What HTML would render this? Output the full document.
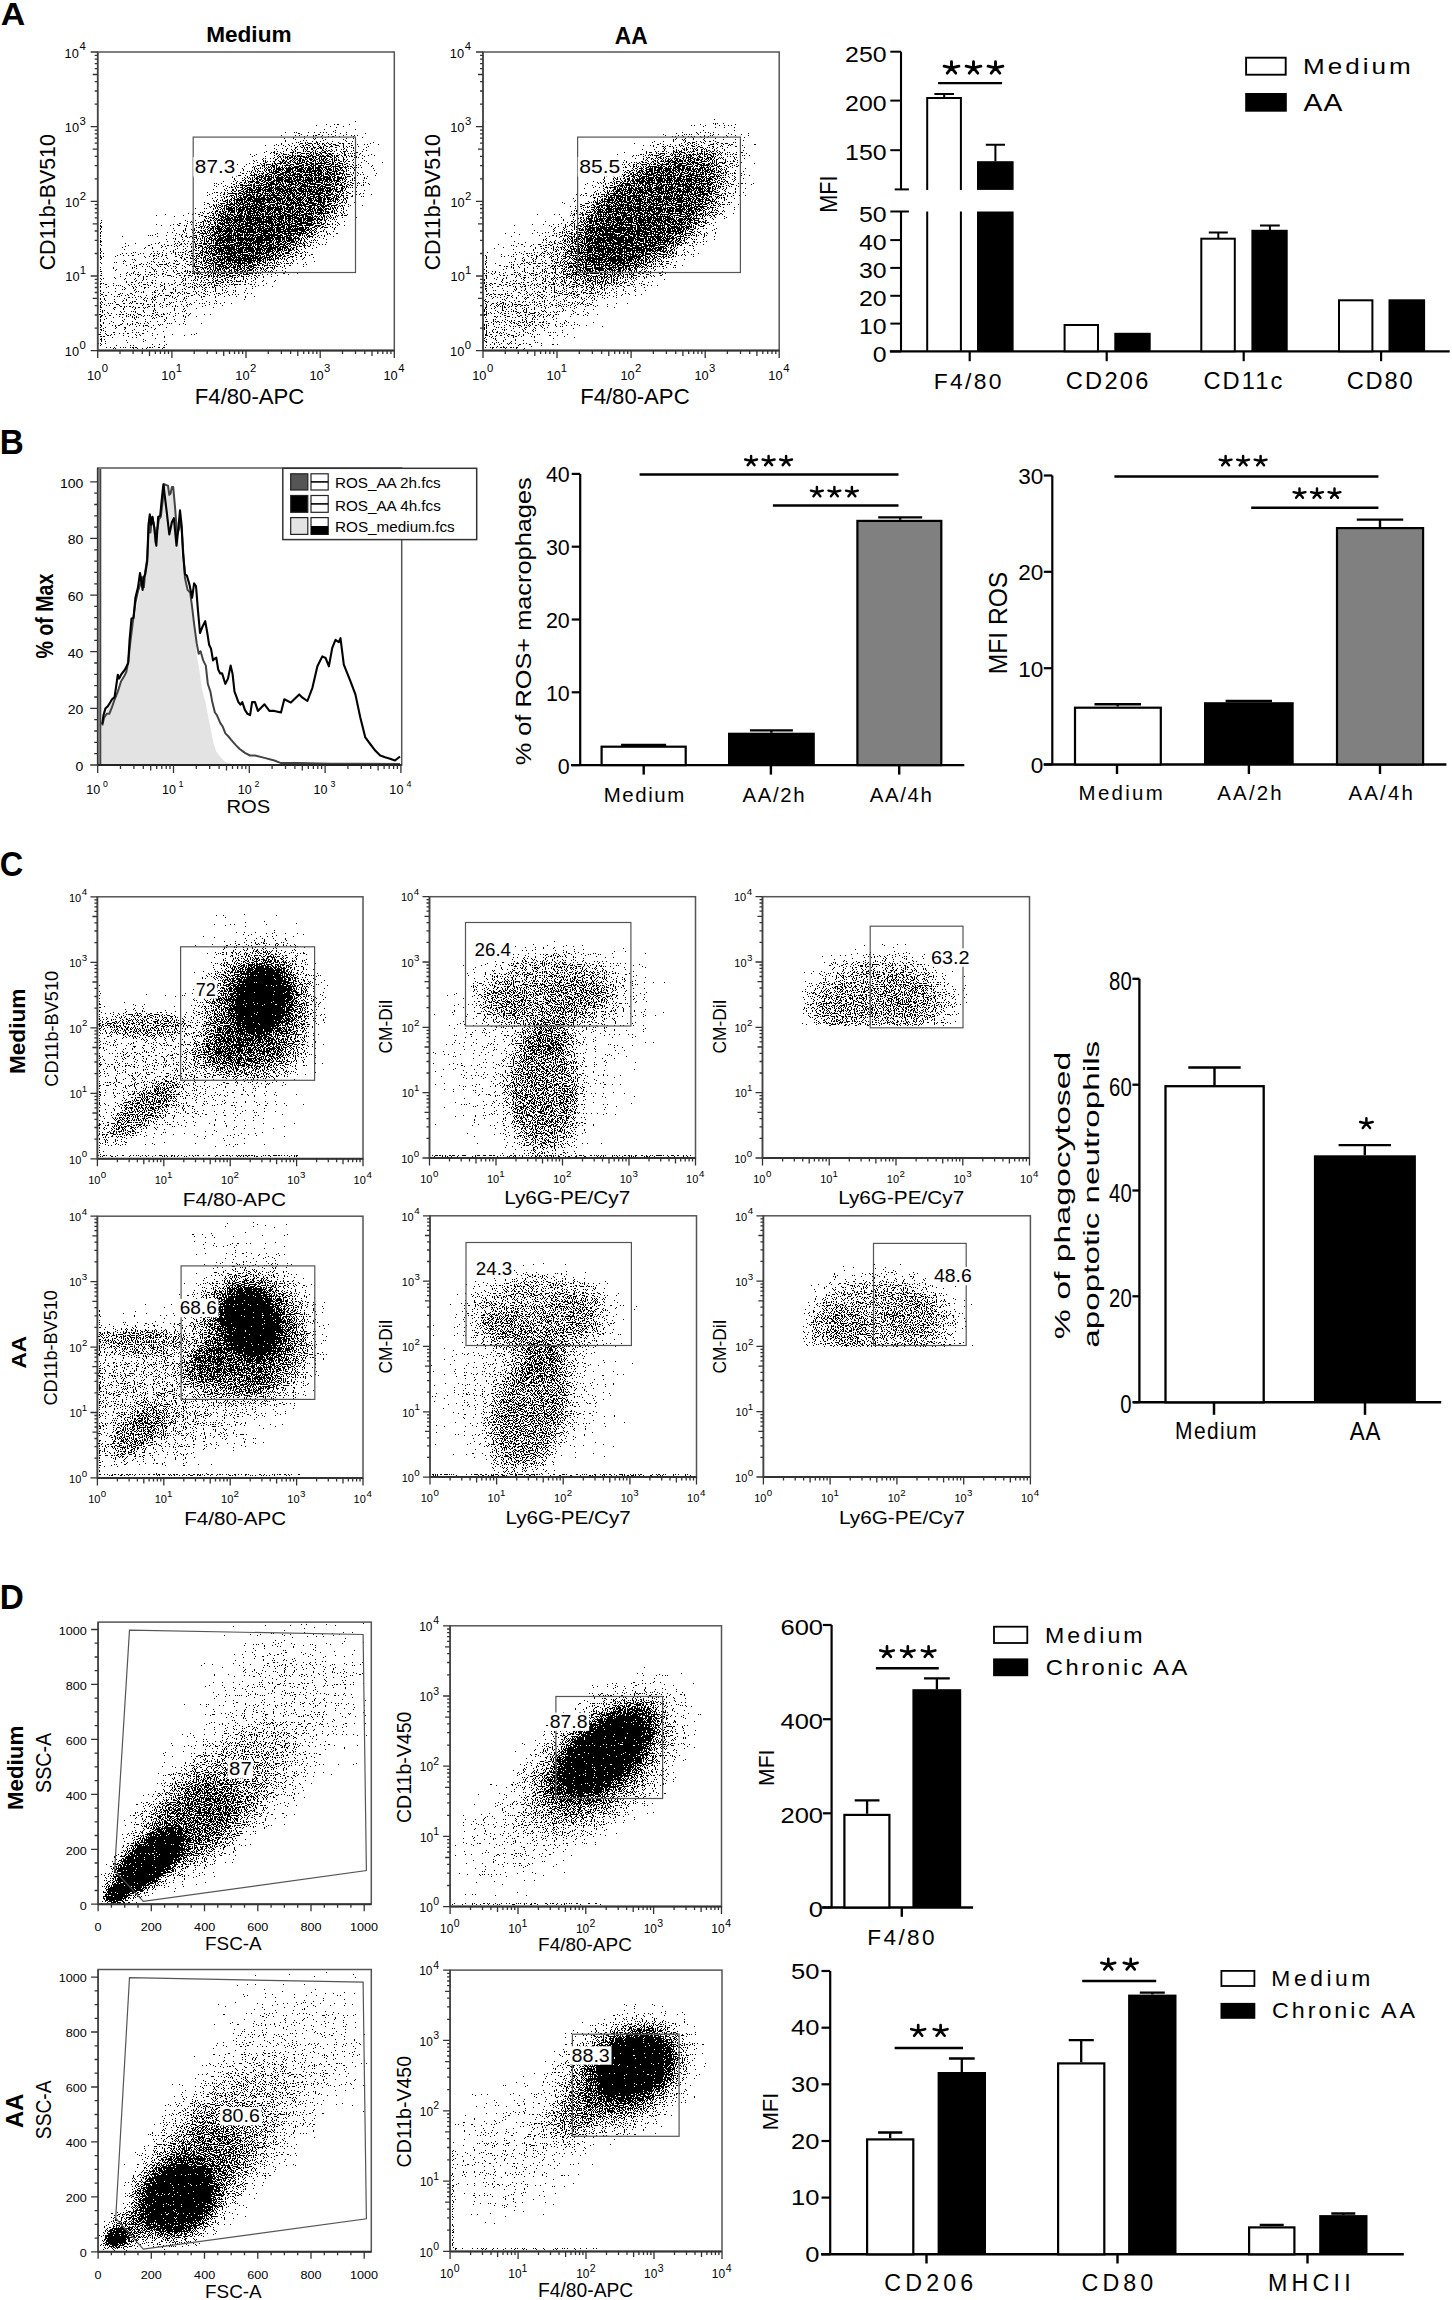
<!DOCTYPE html><html><head><meta charset="utf-8"><title>Figure</title><style>html,body{margin:0;padding:0;background:#fff;width:1452px;height:2300px;overflow:hidden}svg{display:block}</style></head><body><svg width="1452" height="2300" viewBox="0 0 1452 2300" font-family='"Liberation Sans", sans-serif'><defs><filter id="d1" x="97.7" y="52" width="296.6" height="298.6" filterUnits="userSpaceOnUse" color-interpolation-filters="sRGB"><feTurbulence type="fractalNoise" baseFrequency="0.9" numOctaves="1" seed="8" result="n"/><feComponentTransfer in="n" result="u"><feFuncR type="table" tableValues="0.000 0.000 0.000 0.000 0.000 0.000 0.000 0.000 0.000 0.001 0.004 0.013 0.028 0.051 0.088 0.127 0.185 0.240 0.315 0.415 0.492 0.590 0.690 0.762 0.824 0.871 0.909 0.945 0.969 0.986 0.995 0.998 1.000 1.000 1.000 1.000 1.000 1.000 1.000 1.000 1.000"/></feComponentTransfer><feColorMatrix in="u" type="matrix" values="0 0 0 0 0 0 0 0 0 0 0 0 0 0 0 1 0 0 0 0" result="na"/><feComposite in="SourceAlpha" in2="na" operator="arithmetic" k2="1" k3="-1" k4="0.497" result="c"/><feColorMatrix in="c" type="matrix" values="0 0 0 0 0 0 0 0 0 0 0 0 0 0 0 0 0 0 1 0" result="c2"/><feComponentTransfer in="c2"><feFuncA type="discrete" tableValues="0 1"/></feComponentTransfer></filter><radialGradient id="g0"><stop offset="0.000" stop-opacity="0.740"/><stop offset="0.062" stop-opacity="0.740"/><stop offset="0.125" stop-opacity="0.740"/><stop offset="0.188" stop-opacity="0.740"/><stop offset="0.250" stop-opacity="0.740"/><stop offset="0.312" stop-opacity="0.740"/><stop offset="0.375" stop-opacity="0.740"/><stop offset="0.438" stop-opacity="0.740"/><stop offset="0.500" stop-opacity="0.713"/><stop offset="0.562" stop-opacity="0.613"/><stop offset="0.625" stop-opacity="0.469"/><stop offset="0.688" stop-opacity="0.320"/><stop offset="0.750" stop-opacity="0.194"/><stop offset="0.812" stop-opacity="0.105"/><stop offset="0.875" stop-opacity="0.050"/><stop offset="0.938" stop-opacity="0.022"/><stop offset="1.000" stop-opacity="0.008"/></radialGradient><radialGradient id="g1"><stop offset="0.000" stop-opacity="0.250"/><stop offset="0.062" stop-opacity="0.250"/><stop offset="0.125" stop-opacity="0.250"/><stop offset="0.188" stop-opacity="0.250"/><stop offset="0.250" stop-opacity="0.250"/><stop offset="0.312" stop-opacity="0.250"/><stop offset="0.375" stop-opacity="0.237"/><stop offset="0.438" stop-opacity="0.210"/><stop offset="0.500" stop-opacity="0.173"/><stop offset="0.562" stop-opacity="0.133"/><stop offset="0.625" stop-opacity="0.095"/><stop offset="0.688" stop-opacity="0.063"/><stop offset="0.750" stop-opacity="0.039"/><stop offset="0.812" stop-opacity="0.022"/><stop offset="0.875" stop-opacity="0.012"/><stop offset="0.938" stop-opacity="0.006"/><stop offset="1.000" stop-opacity="0.003"/></radialGradient><radialGradient id="g2"><stop offset="0.000" stop-opacity="0.130"/><stop offset="0.062" stop-opacity="0.130"/><stop offset="0.125" stop-opacity="0.130"/><stop offset="0.188" stop-opacity="0.130"/><stop offset="0.250" stop-opacity="0.130"/><stop offset="0.312" stop-opacity="0.130"/><stop offset="0.375" stop-opacity="0.123"/><stop offset="0.438" stop-opacity="0.109"/><stop offset="0.500" stop-opacity="0.090"/><stop offset="0.562" stop-opacity="0.069"/><stop offset="0.625" stop-opacity="0.049"/><stop offset="0.688" stop-opacity="0.033"/><stop offset="0.750" stop-opacity="0.020"/><stop offset="0.812" stop-opacity="0.012"/><stop offset="0.875" stop-opacity="0.006"/><stop offset="0.938" stop-opacity="0.003"/><stop offset="1.000" stop-opacity="0.001"/></radialGradient><radialGradient id="g3"><stop offset="0.000" stop-opacity="0.060"/><stop offset="0.062" stop-opacity="0.060"/><stop offset="0.125" stop-opacity="0.060"/><stop offset="0.188" stop-opacity="0.060"/><stop offset="0.250" stop-opacity="0.060"/><stop offset="0.312" stop-opacity="0.060"/><stop offset="0.375" stop-opacity="0.057"/><stop offset="0.438" stop-opacity="0.050"/><stop offset="0.500" stop-opacity="0.042"/><stop offset="0.562" stop-opacity="0.032"/><stop offset="0.625" stop-opacity="0.023"/><stop offset="0.688" stop-opacity="0.015"/><stop offset="0.750" stop-opacity="0.009"/><stop offset="0.812" stop-opacity="0.005"/><stop offset="0.875" stop-opacity="0.003"/><stop offset="0.938" stop-opacity="0.001"/><stop offset="1.000" stop-opacity="0.001"/></radialGradient><filter id="d2" x="483" y="52" width="296.2" height="298.6" filterUnits="userSpaceOnUse" color-interpolation-filters="sRGB"><feTurbulence type="fractalNoise" baseFrequency="0.9" numOctaves="1" seed="15" result="n"/><feComponentTransfer in="n" result="u"><feFuncR type="table" tableValues="0.000 0.000 0.000 0.000 0.000 0.000 0.000 0.000 0.000 0.001 0.004 0.013 0.028 0.051 0.088 0.127 0.185 0.240 0.315 0.415 0.492 0.590 0.690 0.762 0.824 0.871 0.909 0.945 0.969 0.986 0.995 0.998 1.000 1.000 1.000 1.000 1.000 1.000 1.000 1.000 1.000"/></feComponentTransfer><feColorMatrix in="u" type="matrix" values="0 0 0 0 0 0 0 0 0 0 0 0 0 0 0 1 0 0 0 0" result="na"/><feComposite in="SourceAlpha" in2="na" operator="arithmetic" k2="1" k3="-1" k4="0.497" result="c"/><feColorMatrix in="c" type="matrix" values="0 0 0 0 0 0 0 0 0 0 0 0 0 0 0 0 0 0 1 0" result="c2"/><feComponentTransfer in="c2"><feFuncA type="discrete" tableValues="0 1"/></feComponentTransfer></filter><radialGradient id="g4"><stop offset="0.000" stop-opacity="0.160"/><stop offset="0.062" stop-opacity="0.160"/><stop offset="0.125" stop-opacity="0.160"/><stop offset="0.188" stop-opacity="0.160"/><stop offset="0.250" stop-opacity="0.160"/><stop offset="0.312" stop-opacity="0.160"/><stop offset="0.375" stop-opacity="0.152"/><stop offset="0.438" stop-opacity="0.134"/><stop offset="0.500" stop-opacity="0.111"/><stop offset="0.562" stop-opacity="0.085"/><stop offset="0.625" stop-opacity="0.061"/><stop offset="0.688" stop-opacity="0.040"/><stop offset="0.750" stop-opacity="0.025"/><stop offset="0.812" stop-opacity="0.014"/><stop offset="0.875" stop-opacity="0.008"/><stop offset="0.938" stop-opacity="0.004"/><stop offset="1.000" stop-opacity="0.002"/></radialGradient><radialGradient id="g5"><stop offset="0.000" stop-opacity="0.070"/><stop offset="0.062" stop-opacity="0.070"/><stop offset="0.125" stop-opacity="0.070"/><stop offset="0.188" stop-opacity="0.070"/><stop offset="0.250" stop-opacity="0.070"/><stop offset="0.312" stop-opacity="0.070"/><stop offset="0.375" stop-opacity="0.066"/><stop offset="0.438" stop-opacity="0.059"/><stop offset="0.500" stop-opacity="0.048"/><stop offset="0.562" stop-opacity="0.037"/><stop offset="0.625" stop-opacity="0.027"/><stop offset="0.688" stop-opacity="0.018"/><stop offset="0.750" stop-opacity="0.011"/><stop offset="0.812" stop-opacity="0.006"/><stop offset="0.875" stop-opacity="0.003"/><stop offset="0.938" stop-opacity="0.002"/><stop offset="1.000" stop-opacity="0.001"/></radialGradient><filter id="d3" x="97.4" y="896.8" width="265.6" height="262" filterUnits="userSpaceOnUse" color-interpolation-filters="sRGB"><feTurbulence type="fractalNoise" baseFrequency="0.9" numOctaves="1" seed="22" result="n"/><feComponentTransfer in="n" result="u"><feFuncR type="table" tableValues="0.000 0.000 0.000 0.000 0.000 0.000 0.000 0.000 0.000 0.001 0.004 0.013 0.028 0.051 0.088 0.127 0.185 0.240 0.315 0.415 0.492 0.590 0.690 0.762 0.824 0.871 0.909 0.945 0.969 0.986 0.995 0.998 1.000 1.000 1.000 1.000 1.000 1.000 1.000 1.000 1.000"/></feComponentTransfer><feColorMatrix in="u" type="matrix" values="0 0 0 0 0 0 0 0 0 0 0 0 0 0 0 1 0 0 0 0" result="na"/><feComposite in="SourceAlpha" in2="na" operator="arithmetic" k2="1" k3="-1" k4="0.497" result="c"/><feColorMatrix in="c" type="matrix" values="0 0 0 0 0 0 0 0 0 0 0 0 0 0 0 0 0 0 1 0" result="c2"/><feComponentTransfer in="c2"><feFuncA type="discrete" tableValues="0 1"/></feComponentTransfer></filter><radialGradient id="g6"><stop offset="0.000" stop-opacity="0.550"/><stop offset="0.062" stop-opacity="0.550"/><stop offset="0.125" stop-opacity="0.550"/><stop offset="0.188" stop-opacity="0.550"/><stop offset="0.250" stop-opacity="0.550"/><stop offset="0.312" stop-opacity="0.550"/><stop offset="0.375" stop-opacity="0.550"/><stop offset="0.438" stop-opacity="0.550"/><stop offset="0.500" stop-opacity="0.530"/><stop offset="0.562" stop-opacity="0.456"/><stop offset="0.625" stop-opacity="0.349"/><stop offset="0.688" stop-opacity="0.238"/><stop offset="0.750" stop-opacity="0.144"/><stop offset="0.812" stop-opacity="0.078"/><stop offset="0.875" stop-opacity="0.037"/><stop offset="0.938" stop-opacity="0.016"/><stop offset="1.000" stop-opacity="0.006"/></radialGradient><radialGradient id="g7"><stop offset="0.000" stop-opacity="0.940"/><stop offset="0.062" stop-opacity="0.940"/><stop offset="0.125" stop-opacity="0.940"/><stop offset="0.188" stop-opacity="0.940"/><stop offset="0.250" stop-opacity="0.940"/><stop offset="0.312" stop-opacity="0.940"/><stop offset="0.375" stop-opacity="0.940"/><stop offset="0.438" stop-opacity="0.940"/><stop offset="0.500" stop-opacity="0.940"/><stop offset="0.562" stop-opacity="0.876"/><stop offset="0.625" stop-opacity="0.710"/><stop offset="0.688" stop-opacity="0.499"/><stop offset="0.750" stop-opacity="0.305"/><stop offset="0.812" stop-opacity="0.162"/><stop offset="0.875" stop-opacity="0.075"/><stop offset="0.938" stop-opacity="0.030"/><stop offset="1.000" stop-opacity="0.010"/></radialGradient><radialGradient id="g8"><stop offset="0.000" stop-opacity="0.400"/><stop offset="0.062" stop-opacity="0.400"/><stop offset="0.125" stop-opacity="0.400"/><stop offset="0.188" stop-opacity="0.400"/><stop offset="0.250" stop-opacity="0.400"/><stop offset="0.312" stop-opacity="0.399"/><stop offset="0.375" stop-opacity="0.380"/><stop offset="0.438" stop-opacity="0.336"/><stop offset="0.500" stop-opacity="0.277"/><stop offset="0.562" stop-opacity="0.212"/><stop offset="0.625" stop-opacity="0.152"/><stop offset="0.688" stop-opacity="0.101"/><stop offset="0.750" stop-opacity="0.062"/><stop offset="0.812" stop-opacity="0.036"/><stop offset="0.875" stop-opacity="0.019"/><stop offset="0.938" stop-opacity="0.010"/><stop offset="1.000" stop-opacity="0.004"/></radialGradient><radialGradient id="g9"><stop offset="0.000" stop-opacity="0.280"/><stop offset="0.062" stop-opacity="0.280"/><stop offset="0.125" stop-opacity="0.280"/><stop offset="0.188" stop-opacity="0.280"/><stop offset="0.250" stop-opacity="0.280"/><stop offset="0.312" stop-opacity="0.280"/><stop offset="0.375" stop-opacity="0.266"/><stop offset="0.438" stop-opacity="0.235"/><stop offset="0.500" stop-opacity="0.194"/><stop offset="0.562" stop-opacity="0.149"/><stop offset="0.625" stop-opacity="0.106"/><stop offset="0.688" stop-opacity="0.071"/><stop offset="0.750" stop-opacity="0.044"/><stop offset="0.812" stop-opacity="0.025"/><stop offset="0.875" stop-opacity="0.013"/><stop offset="0.938" stop-opacity="0.007"/><stop offset="1.000" stop-opacity="0.003"/></radialGradient><radialGradient id="g10"><stop offset="0.000" stop-opacity="0.340"/><stop offset="0.062" stop-opacity="0.340"/><stop offset="0.125" stop-opacity="0.340"/><stop offset="0.188" stop-opacity="0.340"/><stop offset="0.250" stop-opacity="0.340"/><stop offset="0.312" stop-opacity="0.340"/><stop offset="0.375" stop-opacity="0.340"/><stop offset="0.438" stop-opacity="0.334"/><stop offset="0.500" stop-opacity="0.300"/><stop offset="0.562" stop-opacity="0.244"/><stop offset="0.625" stop-opacity="0.181"/><stop offset="0.688" stop-opacity="0.121"/><stop offset="0.750" stop-opacity="0.074"/><stop offset="0.812" stop-opacity="0.041"/><stop offset="0.875" stop-opacity="0.020"/><stop offset="0.938" stop-opacity="0.009"/><stop offset="1.000" stop-opacity="0.004"/></radialGradient><radialGradient id="g11"><stop offset="0.000" stop-opacity="0.420"/><stop offset="0.062" stop-opacity="0.420"/><stop offset="0.125" stop-opacity="0.420"/><stop offset="0.188" stop-opacity="0.420"/><stop offset="0.250" stop-opacity="0.420"/><stop offset="0.312" stop-opacity="0.420"/><stop offset="0.375" stop-opacity="0.417"/><stop offset="0.438" stop-opacity="0.387"/><stop offset="0.500" stop-opacity="0.331"/><stop offset="0.562" stop-opacity="0.260"/><stop offset="0.625" stop-opacity="0.188"/><stop offset="0.688" stop-opacity="0.125"/><stop offset="0.750" stop-opacity="0.076"/><stop offset="0.812" stop-opacity="0.043"/><stop offset="0.875" stop-opacity="0.022"/><stop offset="0.938" stop-opacity="0.011"/><stop offset="1.000" stop-opacity="0.005"/></radialGradient><radialGradient id="g12"><stop offset="0.000" stop-opacity="0.120"/><stop offset="0.062" stop-opacity="0.120"/><stop offset="0.125" stop-opacity="0.120"/><stop offset="0.188" stop-opacity="0.120"/><stop offset="0.250" stop-opacity="0.120"/><stop offset="0.312" stop-opacity="0.120"/><stop offset="0.375" stop-opacity="0.114"/><stop offset="0.438" stop-opacity="0.101"/><stop offset="0.500" stop-opacity="0.083"/><stop offset="0.562" stop-opacity="0.064"/><stop offset="0.625" stop-opacity="0.045"/><stop offset="0.688" stop-opacity="0.030"/><stop offset="0.750" stop-opacity="0.019"/><stop offset="0.812" stop-opacity="0.011"/><stop offset="0.875" stop-opacity="0.006"/><stop offset="0.938" stop-opacity="0.003"/><stop offset="1.000" stop-opacity="0.001"/></radialGradient><radialGradient id="g13"><stop offset="0.000" stop-opacity="0.035"/><stop offset="0.062" stop-opacity="0.035"/><stop offset="0.125" stop-opacity="0.035"/><stop offset="0.188" stop-opacity="0.035"/><stop offset="0.250" stop-opacity="0.035"/><stop offset="0.312" stop-opacity="0.035"/><stop offset="0.375" stop-opacity="0.033"/><stop offset="0.438" stop-opacity="0.029"/><stop offset="0.500" stop-opacity="0.024"/><stop offset="0.562" stop-opacity="0.019"/><stop offset="0.625" stop-opacity="0.013"/><stop offset="0.688" stop-opacity="0.009"/><stop offset="0.750" stop-opacity="0.005"/><stop offset="0.812" stop-opacity="0.003"/><stop offset="0.875" stop-opacity="0.002"/><stop offset="0.938" stop-opacity="0.001"/><stop offset="1.000" stop-opacity="0.000"/></radialGradient><radialGradient id="g14"><stop offset="0.000" stop-opacity="0.012"/><stop offset="0.062" stop-opacity="0.012"/><stop offset="0.125" stop-opacity="0.012"/><stop offset="0.188" stop-opacity="0.012"/><stop offset="0.250" stop-opacity="0.012"/><stop offset="0.312" stop-opacity="0.012"/><stop offset="0.375" stop-opacity="0.011"/><stop offset="0.438" stop-opacity="0.010"/><stop offset="0.500" stop-opacity="0.008"/><stop offset="0.562" stop-opacity="0.006"/><stop offset="0.625" stop-opacity="0.005"/><stop offset="0.688" stop-opacity="0.003"/><stop offset="0.750" stop-opacity="0.002"/><stop offset="0.812" stop-opacity="0.001"/><stop offset="0.875" stop-opacity="0.001"/><stop offset="0.938" stop-opacity="0.000"/><stop offset="1.000" stop-opacity="0.000"/></radialGradient><filter id="d4" x="429.5" y="896.7" width="266" height="261.3" filterUnits="userSpaceOnUse" color-interpolation-filters="sRGB"><feTurbulence type="fractalNoise" baseFrequency="0.9" numOctaves="1" seed="29" result="n"/><feComponentTransfer in="n" result="u"><feFuncR type="table" tableValues="0.000 0.000 0.000 0.000 0.000 0.000 0.000 0.000 0.000 0.001 0.004 0.013 0.028 0.051 0.088 0.127 0.185 0.240 0.315 0.415 0.492 0.590 0.690 0.762 0.824 0.871 0.909 0.945 0.969 0.986 0.995 0.998 1.000 1.000 1.000 1.000 1.000 1.000 1.000 1.000 1.000"/></feComponentTransfer><feColorMatrix in="u" type="matrix" values="0 0 0 0 0 0 0 0 0 0 0 0 0 0 0 1 0 0 0 0" result="na"/><feComposite in="SourceAlpha" in2="na" operator="arithmetic" k2="1" k3="-1" k4="0.497" result="c"/><feColorMatrix in="c" type="matrix" values="0 0 0 0 0 0 0 0 0 0 0 0 0 0 0 0 0 0 1 0" result="c2"/><feComponentTransfer in="c2"><feFuncA type="discrete" tableValues="0 1"/></feComponentTransfer></filter><radialGradient id="g15"><stop offset="0.000" stop-opacity="0.270"/><stop offset="0.062" stop-opacity="0.270"/><stop offset="0.125" stop-opacity="0.270"/><stop offset="0.188" stop-opacity="0.270"/><stop offset="0.250" stop-opacity="0.270"/><stop offset="0.312" stop-opacity="0.270"/><stop offset="0.375" stop-opacity="0.270"/><stop offset="0.438" stop-opacity="0.270"/><stop offset="0.500" stop-opacity="0.260"/><stop offset="0.562" stop-opacity="0.224"/><stop offset="0.625" stop-opacity="0.171"/><stop offset="0.688" stop-opacity="0.117"/><stop offset="0.750" stop-opacity="0.071"/><stop offset="0.812" stop-opacity="0.038"/><stop offset="0.875" stop-opacity="0.018"/><stop offset="0.938" stop-opacity="0.008"/><stop offset="1.000" stop-opacity="0.003"/></radialGradient><radialGradient id="g16"><stop offset="0.000" stop-opacity="0.220"/><stop offset="0.062" stop-opacity="0.220"/><stop offset="0.125" stop-opacity="0.220"/><stop offset="0.188" stop-opacity="0.220"/><stop offset="0.250" stop-opacity="0.220"/><stop offset="0.312" stop-opacity="0.220"/><stop offset="0.375" stop-opacity="0.209"/><stop offset="0.438" stop-opacity="0.185"/><stop offset="0.500" stop-opacity="0.152"/><stop offset="0.562" stop-opacity="0.117"/><stop offset="0.625" stop-opacity="0.083"/><stop offset="0.688" stop-opacity="0.055"/><stop offset="0.750" stop-opacity="0.034"/><stop offset="0.812" stop-opacity="0.020"/><stop offset="0.875" stop-opacity="0.011"/><stop offset="0.938" stop-opacity="0.005"/><stop offset="1.000" stop-opacity="0.002"/></radialGradient><radialGradient id="g17"><stop offset="0.000" stop-opacity="0.420"/><stop offset="0.062" stop-opacity="0.420"/><stop offset="0.125" stop-opacity="0.420"/><stop offset="0.188" stop-opacity="0.420"/><stop offset="0.250" stop-opacity="0.420"/><stop offset="0.312" stop-opacity="0.420"/><stop offset="0.375" stop-opacity="0.420"/><stop offset="0.438" stop-opacity="0.420"/><stop offset="0.500" stop-opacity="0.405"/><stop offset="0.562" stop-opacity="0.348"/><stop offset="0.625" stop-opacity="0.266"/><stop offset="0.688" stop-opacity="0.181"/><stop offset="0.750" stop-opacity="0.110"/><stop offset="0.812" stop-opacity="0.059"/><stop offset="0.875" stop-opacity="0.029"/><stop offset="0.938" stop-opacity="0.012"/><stop offset="1.000" stop-opacity="0.005"/></radialGradient><radialGradient id="g18"><stop offset="0.000" stop-opacity="0.300"/><stop offset="0.062" stop-opacity="0.300"/><stop offset="0.125" stop-opacity="0.300"/><stop offset="0.188" stop-opacity="0.300"/><stop offset="0.250" stop-opacity="0.300"/><stop offset="0.312" stop-opacity="0.300"/><stop offset="0.375" stop-opacity="0.285"/><stop offset="0.438" stop-opacity="0.252"/><stop offset="0.500" stop-opacity="0.208"/><stop offset="0.562" stop-opacity="0.159"/><stop offset="0.625" stop-opacity="0.114"/><stop offset="0.688" stop-opacity="0.076"/><stop offset="0.750" stop-opacity="0.047"/><stop offset="0.812" stop-opacity="0.027"/><stop offset="0.875" stop-opacity="0.014"/><stop offset="0.938" stop-opacity="0.007"/><stop offset="1.000" stop-opacity="0.003"/></radialGradient><radialGradient id="g19"><stop offset="0.000" stop-opacity="0.030"/><stop offset="0.062" stop-opacity="0.030"/><stop offset="0.125" stop-opacity="0.030"/><stop offset="0.188" stop-opacity="0.030"/><stop offset="0.250" stop-opacity="0.030"/><stop offset="0.312" stop-opacity="0.030"/><stop offset="0.375" stop-opacity="0.028"/><stop offset="0.438" stop-opacity="0.025"/><stop offset="0.500" stop-opacity="0.021"/><stop offset="0.562" stop-opacity="0.016"/><stop offset="0.625" stop-opacity="0.011"/><stop offset="0.688" stop-opacity="0.008"/><stop offset="0.750" stop-opacity="0.005"/><stop offset="0.812" stop-opacity="0.003"/><stop offset="0.875" stop-opacity="0.001"/><stop offset="0.938" stop-opacity="0.001"/><stop offset="1.000" stop-opacity="0.000"/></radialGradient><clipPath id="cp3"><rect x="802.5" y="931.7" width="170" height="93.5"/></clipPath><radialGradient id="g20"><stop offset="0.000" stop-opacity="0.240"/><stop offset="0.062" stop-opacity="0.240"/><stop offset="0.125" stop-opacity="0.240"/><stop offset="0.188" stop-opacity="0.240"/><stop offset="0.250" stop-opacity="0.240"/><stop offset="0.312" stop-opacity="0.240"/><stop offset="0.375" stop-opacity="0.240"/><stop offset="0.438" stop-opacity="0.240"/><stop offset="0.500" stop-opacity="0.240"/><stop offset="0.562" stop-opacity="0.224"/><stop offset="0.625" stop-opacity="0.181"/><stop offset="0.688" stop-opacity="0.127"/><stop offset="0.750" stop-opacity="0.078"/><stop offset="0.812" stop-opacity="0.041"/><stop offset="0.875" stop-opacity="0.019"/><stop offset="0.938" stop-opacity="0.008"/><stop offset="1.000" stop-opacity="0.003"/></radialGradient><radialGradient id="g21"><stop offset="0.000" stop-opacity="0.200"/><stop offset="0.062" stop-opacity="0.200"/><stop offset="0.125" stop-opacity="0.200"/><stop offset="0.188" stop-opacity="0.200"/><stop offset="0.250" stop-opacity="0.200"/><stop offset="0.312" stop-opacity="0.200"/><stop offset="0.375" stop-opacity="0.190"/><stop offset="0.438" stop-opacity="0.168"/><stop offset="0.500" stop-opacity="0.139"/><stop offset="0.562" stop-opacity="0.106"/><stop offset="0.625" stop-opacity="0.076"/><stop offset="0.688" stop-opacity="0.050"/><stop offset="0.750" stop-opacity="0.031"/><stop offset="0.812" stop-opacity="0.018"/><stop offset="0.875" stop-opacity="0.010"/><stop offset="0.938" stop-opacity="0.005"/><stop offset="1.000" stop-opacity="0.002"/></radialGradient><filter id="d5" x="762.5" y="896.7" width="267" height="261.3" filterUnits="userSpaceOnUse" color-interpolation-filters="sRGB"><feTurbulence type="fractalNoise" baseFrequency="0.9" numOctaves="1" seed="36" result="n"/><feComponentTransfer in="n" result="u"><feFuncR type="table" tableValues="0.000 0.000 0.000 0.000 0.000 0.000 0.000 0.000 0.000 0.001 0.004 0.013 0.028 0.051 0.088 0.127 0.185 0.240 0.315 0.415 0.492 0.590 0.690 0.762 0.824 0.871 0.909 0.945 0.969 0.986 0.995 0.998 1.000 1.000 1.000 1.000 1.000 1.000 1.000 1.000 1.000"/></feComponentTransfer><feColorMatrix in="u" type="matrix" values="0 0 0 0 0 0 0 0 0 0 0 0 0 0 0 1 0 0 0 0" result="na"/><feComposite in="SourceAlpha" in2="na" operator="arithmetic" k2="1" k3="-1" k4="0.497" result="c"/><feColorMatrix in="c" type="matrix" values="0 0 0 0 0 0 0 0 0 0 0 0 0 0 0 0 0 0 1 0" result="c2"/><feComponentTransfer in="c2"><feFuncA type="discrete" tableValues="0 1"/></feComponentTransfer></filter><filter id="d6" x="97.4" y="1216.2" width="265.6" height="261.7" filterUnits="userSpaceOnUse" color-interpolation-filters="sRGB"><feTurbulence type="fractalNoise" baseFrequency="0.9" numOctaves="1" seed="43" result="n"/><feComponentTransfer in="n" result="u"><feFuncR type="table" tableValues="0.000 0.000 0.000 0.000 0.000 0.000 0.000 0.000 0.000 0.001 0.004 0.013 0.028 0.051 0.088 0.127 0.185 0.240 0.315 0.415 0.492 0.590 0.690 0.762 0.824 0.871 0.909 0.945 0.969 0.986 0.995 0.998 1.000 1.000 1.000 1.000 1.000 1.000 1.000 1.000 1.000"/></feComponentTransfer><feColorMatrix in="u" type="matrix" values="0 0 0 0 0 0 0 0 0 0 0 0 0 0 0 1 0 0 0 0" result="na"/><feComposite in="SourceAlpha" in2="na" operator="arithmetic" k2="1" k3="-1" k4="0.497" result="c"/><feColorMatrix in="c" type="matrix" values="0 0 0 0 0 0 0 0 0 0 0 0 0 0 0 0 0 0 1 0" result="c2"/><feComponentTransfer in="c2"><feFuncA type="discrete" tableValues="0 1"/></feComponentTransfer></filter><radialGradient id="g22"><stop offset="0.000" stop-opacity="0.600"/><stop offset="0.062" stop-opacity="0.600"/><stop offset="0.125" stop-opacity="0.600"/><stop offset="0.188" stop-opacity="0.600"/><stop offset="0.250" stop-opacity="0.600"/><stop offset="0.312" stop-opacity="0.600"/><stop offset="0.375" stop-opacity="0.596"/><stop offset="0.438" stop-opacity="0.553"/><stop offset="0.500" stop-opacity="0.472"/><stop offset="0.562" stop-opacity="0.371"/><stop offset="0.625" stop-opacity="0.268"/><stop offset="0.688" stop-opacity="0.178"/><stop offset="0.750" stop-opacity="0.109"/><stop offset="0.812" stop-opacity="0.061"/><stop offset="0.875" stop-opacity="0.032"/><stop offset="0.938" stop-opacity="0.015"/><stop offset="1.000" stop-opacity="0.007"/></radialGradient><radialGradient id="g23"><stop offset="0.000" stop-opacity="0.330"/><stop offset="0.062" stop-opacity="0.330"/><stop offset="0.125" stop-opacity="0.330"/><stop offset="0.188" stop-opacity="0.330"/><stop offset="0.250" stop-opacity="0.330"/><stop offset="0.312" stop-opacity="0.330"/><stop offset="0.375" stop-opacity="0.330"/><stop offset="0.438" stop-opacity="0.324"/><stop offset="0.500" stop-opacity="0.291"/><stop offset="0.562" stop-opacity="0.237"/><stop offset="0.625" stop-opacity="0.175"/><stop offset="0.688" stop-opacity="0.117"/><stop offset="0.750" stop-opacity="0.071"/><stop offset="0.812" stop-opacity="0.039"/><stop offset="0.875" stop-opacity="0.020"/><stop offset="0.938" stop-opacity="0.009"/><stop offset="1.000" stop-opacity="0.004"/></radialGradient><radialGradient id="g24"><stop offset="0.000" stop-opacity="0.380"/><stop offset="0.062" stop-opacity="0.380"/><stop offset="0.125" stop-opacity="0.380"/><stop offset="0.188" stop-opacity="0.380"/><stop offset="0.250" stop-opacity="0.380"/><stop offset="0.312" stop-opacity="0.380"/><stop offset="0.375" stop-opacity="0.377"/><stop offset="0.438" stop-opacity="0.350"/><stop offset="0.500" stop-opacity="0.299"/><stop offset="0.562" stop-opacity="0.235"/><stop offset="0.625" stop-opacity="0.170"/><stop offset="0.688" stop-opacity="0.113"/><stop offset="0.750" stop-opacity="0.069"/><stop offset="0.812" stop-opacity="0.039"/><stop offset="0.875" stop-opacity="0.020"/><stop offset="0.938" stop-opacity="0.010"/><stop offset="1.000" stop-opacity="0.004"/></radialGradient><radialGradient id="g25"><stop offset="0.000" stop-opacity="0.170"/><stop offset="0.062" stop-opacity="0.170"/><stop offset="0.125" stop-opacity="0.170"/><stop offset="0.188" stop-opacity="0.170"/><stop offset="0.250" stop-opacity="0.170"/><stop offset="0.312" stop-opacity="0.170"/><stop offset="0.375" stop-opacity="0.161"/><stop offset="0.438" stop-opacity="0.143"/><stop offset="0.500" stop-opacity="0.118"/><stop offset="0.562" stop-opacity="0.090"/><stop offset="0.625" stop-opacity="0.064"/><stop offset="0.688" stop-opacity="0.043"/><stop offset="0.750" stop-opacity="0.026"/><stop offset="0.812" stop-opacity="0.015"/><stop offset="0.875" stop-opacity="0.008"/><stop offset="0.938" stop-opacity="0.004"/><stop offset="1.000" stop-opacity="0.002"/></radialGradient><filter id="d7" x="430" y="1215.8" width="266.5" height="261.3" filterUnits="userSpaceOnUse" color-interpolation-filters="sRGB"><feTurbulence type="fractalNoise" baseFrequency="0.9" numOctaves="1" seed="50" result="n"/><feComponentTransfer in="n" result="u"><feFuncR type="table" tableValues="0.000 0.000 0.000 0.000 0.000 0.000 0.000 0.000 0.000 0.001 0.004 0.013 0.028 0.051 0.088 0.127 0.185 0.240 0.315 0.415 0.492 0.590 0.690 0.762 0.824 0.871 0.909 0.945 0.969 0.986 0.995 0.998 1.000 1.000 1.000 1.000 1.000 1.000 1.000 1.000 1.000"/></feComponentTransfer><feColorMatrix in="u" type="matrix" values="0 0 0 0 0 0 0 0 0 0 0 0 0 0 0 1 0 0 0 0" result="na"/><feComposite in="SourceAlpha" in2="na" operator="arithmetic" k2="1" k3="-1" k4="0.497" result="c"/><feColorMatrix in="c" type="matrix" values="0 0 0 0 0 0 0 0 0 0 0 0 0 0 0 0 0 0 1 0" result="c2"/><feComponentTransfer in="c2"><feFuncA type="discrete" tableValues="0 1"/></feComponentTransfer></filter><radialGradient id="g26"><stop offset="0.000" stop-opacity="0.180"/><stop offset="0.062" stop-opacity="0.180"/><stop offset="0.125" stop-opacity="0.180"/><stop offset="0.188" stop-opacity="0.180"/><stop offset="0.250" stop-opacity="0.180"/><stop offset="0.312" stop-opacity="0.180"/><stop offset="0.375" stop-opacity="0.171"/><stop offset="0.438" stop-opacity="0.151"/><stop offset="0.500" stop-opacity="0.125"/><stop offset="0.562" stop-opacity="0.096"/><stop offset="0.625" stop-opacity="0.068"/><stop offset="0.688" stop-opacity="0.045"/><stop offset="0.750" stop-opacity="0.028"/><stop offset="0.812" stop-opacity="0.016"/><stop offset="0.875" stop-opacity="0.009"/><stop offset="0.938" stop-opacity="0.004"/><stop offset="1.000" stop-opacity="0.002"/></radialGradient><clipPath id="cp6"><rect x="803.4" y="1252.8" width="170" height="93.8"/></clipPath><filter id="d8" x="763.4" y="1215.8" width="267" height="261.2" filterUnits="userSpaceOnUse" color-interpolation-filters="sRGB"><feTurbulence type="fractalNoise" baseFrequency="0.9" numOctaves="1" seed="57" result="n"/><feComponentTransfer in="n" result="u"><feFuncR type="table" tableValues="0.000 0.000 0.000 0.000 0.000 0.000 0.000 0.000 0.000 0.001 0.004 0.013 0.028 0.051 0.088 0.127 0.185 0.240 0.315 0.415 0.492 0.590 0.690 0.762 0.824 0.871 0.909 0.945 0.969 0.986 0.995 0.998 1.000 1.000 1.000 1.000 1.000 1.000 1.000 1.000 1.000"/></feComponentTransfer><feColorMatrix in="u" type="matrix" values="0 0 0 0 0 0 0 0 0 0 0 0 0 0 0 1 0 0 0 0" result="na"/><feComposite in="SourceAlpha" in2="na" operator="arithmetic" k2="1" k3="-1" k4="0.497" result="c"/><feColorMatrix in="c" type="matrix" values="0 0 0 0 0 0 0 0 0 0 0 0 0 0 0 0 0 0 1 0" result="c2"/><feComponentTransfer in="c2"><feFuncA type="discrete" tableValues="0 1"/></feComponentTransfer></filter><filter id="d9" x="98.1" y="1622.1" width="273.2" height="282.1" filterUnits="userSpaceOnUse" color-interpolation-filters="sRGB"><feTurbulence type="fractalNoise" baseFrequency="0.9" numOctaves="1" seed="64" result="n"/><feComponentTransfer in="n" result="u"><feFuncR type="table" tableValues="0.000 0.000 0.000 0.000 0.000 0.000 0.000 0.000 0.000 0.001 0.004 0.013 0.028 0.051 0.088 0.127 0.185 0.240 0.315 0.415 0.492 0.590 0.690 0.762 0.824 0.871 0.909 0.945 0.969 0.986 0.995 0.998 1.000 1.000 1.000 1.000 1.000 1.000 1.000 1.000 1.000"/></feComponentTransfer><feColorMatrix in="u" type="matrix" values="0 0 0 0 0 0 0 0 0 0 0 0 0 0 0 1 0 0 0 0" result="na"/><feComposite in="SourceAlpha" in2="na" operator="arithmetic" k2="1" k3="-1" k4="0.497" result="c"/><feColorMatrix in="c" type="matrix" values="0 0 0 0 0 0 0 0 0 0 0 0 0 0 0 0 0 0 1 0" result="c2"/><feComponentTransfer in="c2"><feFuncA type="discrete" tableValues="0 1"/></feComponentTransfer></filter><radialGradient id="g27"><stop offset="0.000" stop-opacity="0.550"/><stop offset="0.062" stop-opacity="0.550"/><stop offset="0.125" stop-opacity="0.550"/><stop offset="0.188" stop-opacity="0.550"/><stop offset="0.250" stop-opacity="0.550"/><stop offset="0.312" stop-opacity="0.550"/><stop offset="0.375" stop-opacity="0.546"/><stop offset="0.438" stop-opacity="0.507"/><stop offset="0.500" stop-opacity="0.433"/><stop offset="0.562" stop-opacity="0.340"/><stop offset="0.625" stop-opacity="0.246"/><stop offset="0.688" stop-opacity="0.163"/><stop offset="0.750" stop-opacity="0.100"/><stop offset="0.812" stop-opacity="0.056"/><stop offset="0.875" stop-opacity="0.029"/><stop offset="0.938" stop-opacity="0.014"/><stop offset="1.000" stop-opacity="0.006"/></radialGradient><radialGradient id="g28"><stop offset="0.000" stop-opacity="0.950"/><stop offset="0.062" stop-opacity="0.950"/><stop offset="0.125" stop-opacity="0.950"/><stop offset="0.188" stop-opacity="0.950"/><stop offset="0.250" stop-opacity="0.950"/><stop offset="0.312" stop-opacity="0.950"/><stop offset="0.375" stop-opacity="0.950"/><stop offset="0.438" stop-opacity="0.950"/><stop offset="0.500" stop-opacity="0.950"/><stop offset="0.562" stop-opacity="0.885"/><stop offset="0.625" stop-opacity="0.717"/><stop offset="0.688" stop-opacity="0.505"/><stop offset="0.750" stop-opacity="0.308"/><stop offset="0.812" stop-opacity="0.164"/><stop offset="0.875" stop-opacity="0.076"/><stop offset="0.938" stop-opacity="0.030"/><stop offset="1.000" stop-opacity="0.011"/></radialGradient><radialGradient id="g29"><stop offset="0.000" stop-opacity="0.950"/><stop offset="0.062" stop-opacity="0.950"/><stop offset="0.125" stop-opacity="0.950"/><stop offset="0.188" stop-opacity="0.950"/><stop offset="0.250" stop-opacity="0.950"/><stop offset="0.312" stop-opacity="0.950"/><stop offset="0.375" stop-opacity="0.950"/><stop offset="0.438" stop-opacity="0.933"/><stop offset="0.500" stop-opacity="0.838"/><stop offset="0.562" stop-opacity="0.683"/><stop offset="0.625" stop-opacity="0.505"/><stop offset="0.688" stop-opacity="0.338"/><stop offset="0.750" stop-opacity="0.205"/><stop offset="0.812" stop-opacity="0.113"/><stop offset="0.875" stop-opacity="0.057"/><stop offset="0.938" stop-opacity="0.026"/><stop offset="1.000" stop-opacity="0.011"/></radialGradient><radialGradient id="g30"><stop offset="0.000" stop-opacity="0.500"/><stop offset="0.062" stop-opacity="0.500"/><stop offset="0.125" stop-opacity="0.500"/><stop offset="0.188" stop-opacity="0.500"/><stop offset="0.250" stop-opacity="0.500"/><stop offset="0.312" stop-opacity="0.499"/><stop offset="0.375" stop-opacity="0.475"/><stop offset="0.438" stop-opacity="0.420"/><stop offset="0.500" stop-opacity="0.346"/><stop offset="0.562" stop-opacity="0.266"/><stop offset="0.625" stop-opacity="0.190"/><stop offset="0.688" stop-opacity="0.126"/><stop offset="0.750" stop-opacity="0.078"/><stop offset="0.812" stop-opacity="0.045"/><stop offset="0.875" stop-opacity="0.024"/><stop offset="0.938" stop-opacity="0.012"/><stop offset="1.000" stop-opacity="0.006"/></radialGradient><filter id="d10" x="98.1" y="1969.5" width="273.2" height="282.3" filterUnits="userSpaceOnUse" color-interpolation-filters="sRGB"><feTurbulence type="fractalNoise" baseFrequency="0.9" numOctaves="1" seed="71" result="n"/><feComponentTransfer in="n" result="u"><feFuncR type="table" tableValues="0.000 0.000 0.000 0.000 0.000 0.000 0.000 0.000 0.000 0.001 0.004 0.013 0.028 0.051 0.088 0.127 0.185 0.240 0.315 0.415 0.492 0.590 0.690 0.762 0.824 0.871 0.909 0.945 0.969 0.986 0.995 0.998 1.000 1.000 1.000 1.000 1.000 1.000 1.000 1.000 1.000"/></feComponentTransfer><feColorMatrix in="u" type="matrix" values="0 0 0 0 0 0 0 0 0 0 0 0 0 0 0 1 0 0 0 0" result="na"/><feComposite in="SourceAlpha" in2="na" operator="arithmetic" k2="1" k3="-1" k4="0.497" result="c"/><feColorMatrix in="c" type="matrix" values="0 0 0 0 0 0 0 0 0 0 0 0 0 0 0 0 0 0 1 0" result="c2"/><feComponentTransfer in="c2"><feFuncA type="discrete" tableValues="0 1"/></feComponentTransfer></filter><radialGradient id="g31"><stop offset="0.000" stop-opacity="0.450"/><stop offset="0.062" stop-opacity="0.450"/><stop offset="0.125" stop-opacity="0.450"/><stop offset="0.188" stop-opacity="0.450"/><stop offset="0.250" stop-opacity="0.450"/><stop offset="0.312" stop-opacity="0.449"/><stop offset="0.375" stop-opacity="0.427"/><stop offset="0.438" stop-opacity="0.378"/><stop offset="0.500" stop-opacity="0.312"/><stop offset="0.562" stop-opacity="0.239"/><stop offset="0.625" stop-opacity="0.171"/><stop offset="0.688" stop-opacity="0.113"/><stop offset="0.750" stop-opacity="0.070"/><stop offset="0.812" stop-opacity="0.040"/><stop offset="0.875" stop-opacity="0.022"/><stop offset="0.938" stop-opacity="0.011"/><stop offset="1.000" stop-opacity="0.005"/></radialGradient><filter id="d11" x="450.1" y="1625.8" width="271.4" height="280.8" filterUnits="userSpaceOnUse" color-interpolation-filters="sRGB"><feTurbulence type="fractalNoise" baseFrequency="0.9" numOctaves="1" seed="78" result="n"/><feComponentTransfer in="n" result="u"><feFuncR type="table" tableValues="0.000 0.000 0.000 0.000 0.000 0.000 0.000 0.000 0.000 0.001 0.004 0.013 0.028 0.051 0.088 0.127 0.185 0.240 0.315 0.415 0.492 0.590 0.690 0.762 0.824 0.871 0.909 0.945 0.969 0.986 0.995 0.998 1.000 1.000 1.000 1.000 1.000 1.000 1.000 1.000 1.000"/></feComponentTransfer><feColorMatrix in="u" type="matrix" values="0 0 0 0 0 0 0 0 0 0 0 0 0 0 0 1 0 0 0 0" result="na"/><feComposite in="SourceAlpha" in2="na" operator="arithmetic" k2="1" k3="-1" k4="0.497" result="c"/><feColorMatrix in="c" type="matrix" values="0 0 0 0 0 0 0 0 0 0 0 0 0 0 0 0 0 0 1 0" result="c2"/><feComponentTransfer in="c2"><feFuncA type="discrete" tableValues="0 1"/></feComponentTransfer></filter><radialGradient id="g32"><stop offset="0.000" stop-opacity="0.050"/><stop offset="0.062" stop-opacity="0.050"/><stop offset="0.125" stop-opacity="0.050"/><stop offset="0.188" stop-opacity="0.050"/><stop offset="0.250" stop-opacity="0.050"/><stop offset="0.312" stop-opacity="0.050"/><stop offset="0.375" stop-opacity="0.047"/><stop offset="0.438" stop-opacity="0.042"/><stop offset="0.500" stop-opacity="0.035"/><stop offset="0.562" stop-opacity="0.027"/><stop offset="0.625" stop-opacity="0.019"/><stop offset="0.688" stop-opacity="0.013"/><stop offset="0.750" stop-opacity="0.008"/><stop offset="0.812" stop-opacity="0.004"/><stop offset="0.875" stop-opacity="0.002"/><stop offset="0.938" stop-opacity="0.001"/><stop offset="1.000" stop-opacity="0.001"/></radialGradient><radialGradient id="g33"><stop offset="0.000" stop-opacity="0.450"/><stop offset="0.062" stop-opacity="0.450"/><stop offset="0.125" stop-opacity="0.450"/><stop offset="0.188" stop-opacity="0.450"/><stop offset="0.250" stop-opacity="0.450"/><stop offset="0.312" stop-opacity="0.450"/><stop offset="0.375" stop-opacity="0.450"/><stop offset="0.438" stop-opacity="0.442"/><stop offset="0.500" stop-opacity="0.397"/><stop offset="0.562" stop-opacity="0.323"/><stop offset="0.625" stop-opacity="0.239"/><stop offset="0.688" stop-opacity="0.160"/><stop offset="0.750" stop-opacity="0.097"/><stop offset="0.812" stop-opacity="0.054"/><stop offset="0.875" stop-opacity="0.027"/><stop offset="0.938" stop-opacity="0.012"/><stop offset="1.000" stop-opacity="0.005"/></radialGradient><radialGradient id="g34"><stop offset="0.000" stop-opacity="0.930"/><stop offset="0.062" stop-opacity="0.930"/><stop offset="0.125" stop-opacity="0.930"/><stop offset="0.188" stop-opacity="0.930"/><stop offset="0.250" stop-opacity="0.930"/><stop offset="0.312" stop-opacity="0.930"/><stop offset="0.375" stop-opacity="0.930"/><stop offset="0.438" stop-opacity="0.930"/><stop offset="0.500" stop-opacity="0.930"/><stop offset="0.562" stop-opacity="0.867"/><stop offset="0.625" stop-opacity="0.702"/><stop offset="0.688" stop-opacity="0.494"/><stop offset="0.750" stop-opacity="0.302"/><stop offset="0.812" stop-opacity="0.160"/><stop offset="0.875" stop-opacity="0.074"/><stop offset="0.938" stop-opacity="0.030"/><stop offset="1.000" stop-opacity="0.010"/></radialGradient><filter id="d12" x="450.1" y="1970.1" width="271.9" height="281.3" filterUnits="userSpaceOnUse" color-interpolation-filters="sRGB"><feTurbulence type="fractalNoise" baseFrequency="0.9" numOctaves="1" seed="85" result="n"/><feComponentTransfer in="n" result="u"><feFuncR type="table" tableValues="0.000 0.000 0.000 0.000 0.000 0.000 0.000 0.000 0.000 0.001 0.004 0.013 0.028 0.051 0.088 0.127 0.185 0.240 0.315 0.415 0.492 0.590 0.690 0.762 0.824 0.871 0.909 0.945 0.969 0.986 0.995 0.998 1.000 1.000 1.000 1.000 1.000 1.000 1.000 1.000 1.000"/></feComponentTransfer><feColorMatrix in="u" type="matrix" values="0 0 0 0 0 0 0 0 0 0 0 0 0 0 0 1 0 0 0 0" result="na"/><feComposite in="SourceAlpha" in2="na" operator="arithmetic" k2="1" k3="-1" k4="0.497" result="c"/><feColorMatrix in="c" type="matrix" values="0 0 0 0 0 0 0 0 0 0 0 0 0 0 0 0 0 0 1 0" result="c2"/><feComponentTransfer in="c2"><feFuncA type="discrete" tableValues="0 1"/></feComponentTransfer></filter><radialGradient id="g35"><stop offset="0.000" stop-opacity="0.500"/><stop offset="0.062" stop-opacity="0.500"/><stop offset="0.125" stop-opacity="0.500"/><stop offset="0.188" stop-opacity="0.500"/><stop offset="0.250" stop-opacity="0.500"/><stop offset="0.312" stop-opacity="0.500"/><stop offset="0.375" stop-opacity="0.500"/><stop offset="0.438" stop-opacity="0.491"/><stop offset="0.500" stop-opacity="0.441"/><stop offset="0.562" stop-opacity="0.359"/><stop offset="0.625" stop-opacity="0.266"/><stop offset="0.688" stop-opacity="0.178"/><stop offset="0.750" stop-opacity="0.108"/><stop offset="0.812" stop-opacity="0.060"/><stop offset="0.875" stop-opacity="0.030"/><stop offset="0.938" stop-opacity="0.014"/><stop offset="1.000" stop-opacity="0.006"/></radialGradient></defs><text x="0" y="0" font-size="30.58" font-weight="bold" transform="translate(0.80 25.20) scale(1.110 1)">A</text>
<text x="0" y="0" font-size="21.77" font-weight="bold" transform="translate(206.13 42.18) scale(1.039 1)">Medium</text>
<text x="0" y="0" font-size="24.06" font-weight="bold" transform="translate(614.73 43.80) scale(0.945 1)">AA</text>
<g filter="url(#d1)"><ellipse cx="273.7" cy="213" rx="130" ry="64" fill="url(#g0)" transform="rotate(-38 273.7 213)"/><ellipse cx="247.7" cy="242" rx="55" ry="35" fill="url(#g1)" transform="rotate(-38 247.7 242)"/><ellipse cx="172.7" cy="277" rx="120" ry="65" fill="url(#g2)" transform="rotate(-32 172.7 277)"/><ellipse cx="127.7" cy="322" rx="60" ry="40" fill="url(#g3)"/><rect x="100" y="220" width="1.5" height="127" opacity=".5"/><rect x="105" y="347" width="60" height="1.5" opacity=".4"/></g>
<rect x="193.2" y="137.1" width="162.3" height="135.4" fill="none" stroke="#555" stroke-width="1.2"/>
<rect x="193.3" y="157" width="43.5" height="19.6" fill="#fff"/>
<text x="0" y="0" font-size="19.15" transform="translate(194.87 173.41) scale(1.081 1)">87.3</text>
<rect x="97.7" y="52" width="296.6" height="298.6" fill="none" stroke="#555" stroke-width="1.5"/>
<line x1="97.7" y1="350.6" x2="394.3" y2="350.6" stroke="#333" stroke-width="2"/>
<line x1="97.7" y1="52" x2="97.7" y2="350.6" stroke="#444" stroke-width="1.6"/>
<path d="M97.7 350.6v7.5M120 350.6v3.5M133.1 350.6v3.5M142.3 350.6v3.5M149.5 350.6v5.5M155.4 350.6v3.5M160.4 350.6v3.5M164.7 350.6v3.5M168.5 350.6v3.5M171.9 350.6v7.5M194.2 350.6v3.5M207.2 350.6v3.5M216.5 350.6v3.5M223.7 350.6v5.5M229.5 350.6v3.5M234.5 350.6v3.5M238.8 350.6v3.5M242.6 350.6v3.5M246 350.6v7.5M268.3 350.6v3.5M281.4 350.6v3.5M290.6 350.6v3.5M297.8 350.6v5.5M303.7 350.6v3.5M308.7 350.6v3.5M313 350.6v3.5M316.8 350.6v3.5M320.2 350.6v7.5M342.5 350.6v3.5M355.5 350.6v3.5M364.8 350.6v3.5M372 350.6v5.5M377.8 350.6v3.5M382.8 350.6v3.5M387.1 350.6v3.5M390.9 350.6v3.5M394.3 350.6v7.5M97.7 350.6h-7M97.7 328.1h-3M97.7 315h-3M97.7 305.7h-3M97.7 298.4h-5M97.7 292.5h-3M97.7 287.5h-3M97.7 283.2h-3M97.7 279.4h-3M97.7 276h-7M97.7 253.5h-3M97.7 240.3h-3M97.7 231h-3M97.7 223.8h-5M97.7 217.9h-3M97.7 212.9h-3M97.7 208.5h-3M97.7 204.7h-3M97.7 201.3h-7M97.7 178.8h-3M97.7 165.7h-3M97.7 156.4h-3M97.7 149.1h-5M97.7 143.2h-3M97.7 138.2h-3M97.7 133.9h-3M97.7 130.1h-3M97.7 126.7h-7M97.7 104.2h-3M97.7 91h-3M97.7 81.7h-3M97.7 74.5h-5M97.7 68.6h-3M97.7 63.6h-3M97.7 59.2h-3M97.7 55.4h-3M97.7 52h-7" fill="none" stroke="#333" stroke-width="1.3"/>
<text x="86.93" y="379.50" font-size="12.80">10</text>
<text x="101.64" y="372.40" font-size="11.30">0</text>
<text x="161.33" y="379.50" font-size="12.80">10</text>
<text x="175.64" y="372.40" font-size="11.30">1</text>
<text x="235.37" y="379.50" font-size="12.80">10</text>
<text x="249.96" y="372.40" font-size="11.30">2</text>
<text x="309.41" y="379.50" font-size="12.80">10</text>
<text x="324.11" y="372.40" font-size="11.30">3</text>
<text x="383.39" y="379.50" font-size="12.80">10</text>
<text x="398.32" y="372.40" font-size="11.30">4</text>
<text x="64.82" y="356.10" font-size="12.80">10</text>
<text x="79.52" y="349.00" font-size="11.30">0</text>
<text x="65.32" y="281.45" font-size="12.80">10</text>
<text x="79.64" y="274.35" font-size="11.30">1</text>
<text x="65.10" y="206.80" font-size="12.80">10</text>
<text x="79.69" y="199.70" font-size="11.30">2</text>
<text x="64.87" y="132.15" font-size="12.80">10</text>
<text x="79.58" y="125.05" font-size="11.30">3</text>
<text x="64.53" y="57.50" font-size="12.80">10</text>
<text x="79.47" y="50.40" font-size="11.30">4</text>
<text x="0" y="0" font-size="21.90" transform="translate(54.88 270.37) rotate(-90) scale(0.976 1)">CD11b-BV510</text>
<text x="0" y="0" font-size="21.90" transform="translate(194.83 404.18) scale(1.011 1)">F4/80-APC</text>
<g filter="url(#d2)"><ellipse cx="645" cy="216" rx="136" ry="66" fill="url(#g0)" transform="rotate(-38 645 216)"/><ellipse cx="623" cy="237" rx="60" ry="40" fill="url(#g1)" transform="rotate(-38 623 237)"/><ellipse cx="548" cy="282" rx="125" ry="70" fill="url(#g4)" transform="rotate(-32 548 282)"/><ellipse cx="508" cy="322" rx="60" ry="40" fill="url(#g5)"/><rect x="485.5" y="255" width="1.5" height="92" opacity=".5"/><rect x="490" y="347" width="30" height="1.5" opacity=".4"/></g>
<rect x="577.6" y="137.1" width="162.8" height="135.4" fill="none" stroke="#555" stroke-width="1.2"/>
<rect x="577.7" y="157" width="44.3" height="19.6" fill="#fff"/>
<text x="0" y="0" font-size="19.15" transform="translate(579.25 173.41) scale(1.103 1)">85.5</text>
<rect x="483" y="52" width="296.2" height="298.6" fill="none" stroke="#555" stroke-width="1.5"/>
<line x1="483" y1="350.6" x2="779.2" y2="350.6" stroke="#333" stroke-width="2"/>
<line x1="483" y1="52" x2="483" y2="350.6" stroke="#444" stroke-width="1.6"/>
<path d="M483 350.6v7.5M505.3 350.6v3.5M518.3 350.6v3.5M527.6 350.6v3.5M534.8 350.6v5.5M540.6 350.6v3.5M545.6 350.6v3.5M549.9 350.6v3.5M553.7 350.6v3.5M557 350.6v7.5M579.3 350.6v3.5M592.4 350.6v3.5M601.6 350.6v3.5M608.8 350.6v5.5M614.7 350.6v3.5M619.6 350.6v3.5M623.9 350.6v3.5M627.7 350.6v3.5M631.1 350.6v7.5M653.4 350.6v3.5M666.4 350.6v3.5M675.7 350.6v3.5M682.9 350.6v5.5M688.7 350.6v3.5M693.7 350.6v3.5M698 350.6v3.5M701.8 350.6v3.5M705.2 350.6v7.5M727.4 350.6v3.5M740.5 350.6v3.5M749.7 350.6v3.5M756.9 350.6v5.5M762.8 350.6v3.5M767.7 350.6v3.5M772 350.6v3.5M775.8 350.6v3.5M779.2 350.6v7.5M483 350.6h-7M483 328.1h-3M483 315h-3M483 305.7h-3M483 298.4h-5M483 292.5h-3M483 287.5h-3M483 283.2h-3M483 279.4h-3M483 276h-7M483 253.5h-3M483 240.3h-3M483 231h-3M483 223.8h-5M483 217.9h-3M483 212.9h-3M483 208.5h-3M483 204.7h-3M483 201.3h-7M483 178.8h-3M483 165.7h-3M483 156.4h-3M483 149.1h-5M483 143.2h-3M483 138.2h-3M483 133.9h-3M483 130.1h-3M483 126.7h-7M483 104.2h-3M483 91h-3M483 81.7h-3M483 74.5h-5M483 68.6h-3M483 63.6h-3M483 59.2h-3M483 55.4h-3M483 52h-7" fill="none" stroke="#333" stroke-width="1.3"/>
<text x="472.23" y="379.50" font-size="12.80">10</text>
<text x="486.94" y="372.40" font-size="11.30">0</text>
<text x="546.53" y="379.50" font-size="12.80">10</text>
<text x="560.84" y="372.40" font-size="11.30">1</text>
<text x="620.47" y="379.50" font-size="12.80">10</text>
<text x="635.06" y="372.40" font-size="11.30">2</text>
<text x="694.41" y="379.50" font-size="12.80">10</text>
<text x="709.11" y="372.40" font-size="11.30">3</text>
<text x="768.29" y="379.50" font-size="12.80">10</text>
<text x="783.22" y="372.40" font-size="11.30">4</text>
<text x="450.12" y="356.10" font-size="12.80">10</text>
<text x="464.82" y="349.00" font-size="11.30">0</text>
<text x="450.62" y="281.45" font-size="12.80">10</text>
<text x="464.94" y="274.35" font-size="11.30">1</text>
<text x="450.40" y="206.80" font-size="12.80">10</text>
<text x="464.99" y="199.70" font-size="11.30">2</text>
<text x="450.17" y="132.15" font-size="12.80">10</text>
<text x="464.88" y="125.05" font-size="11.30">3</text>
<text x="449.83" y="57.50" font-size="12.80">10</text>
<text x="464.77" y="50.40" font-size="11.30">4</text>
<text x="0" y="0" font-size="21.90" transform="translate(440.18 270.37) rotate(-90) scale(0.976 1)">CD11b-BV510</text>
<text x="0" y="0" font-size="21.90" transform="translate(580.13 404.18) scale(1.011 1)">F4/80-APC</text>
<path d="M901.0 51.7V189.4" fill="none" stroke="#000" stroke-width="2.1"/>
<line x1="890.3" y1="51.7" x2="901" y2="51.7" stroke="#000" stroke-width="2"/>
<line x1="890.3" y1="100.6" x2="901" y2="100.6" stroke="#000" stroke-width="2"/>
<line x1="890.3" y1="150.2" x2="901" y2="150.2" stroke="#000" stroke-width="2"/>
<line x1="894.7" y1="189.4" x2="908.9" y2="189.4" stroke="#000" stroke-width="2"/>
<path d="M901.0 211.5V351.5" fill="none" stroke="#000" stroke-width="2.1"/>
<line x1="890.3" y1="211.5" x2="908.9" y2="211.5" stroke="#000" stroke-width="2"/>
<line x1="890.3" y1="240.1" x2="901" y2="240.1" stroke="#000" stroke-width="2"/>
<line x1="890.3" y1="267.9" x2="901" y2="267.9" stroke="#000" stroke-width="2"/>
<line x1="890.3" y1="295.8" x2="901" y2="295.8" stroke="#000" stroke-width="2"/>
<line x1="890.3" y1="323.6" x2="901" y2="323.6" stroke="#000" stroke-width="2"/>
<line x1="890.3" y1="351.5" x2="901" y2="351.5" stroke="#000" stroke-width="2"/>
<text x="0" y="0" font-size="22.25" transform="translate(845.08 61.78) scale(1.117 1)">250</text>
<text x="0" y="0" font-size="22.25" transform="translate(845.08 110.68) scale(1.117 1)">200</text>
<text x="0" y="0" font-size="22.25" transform="translate(845.08 160.28) scale(1.117 1)">150</text>
<text x="0" y="0" font-size="22.25" transform="translate(858.88 221.58) scale(1.117 1)">50</text>
<text x="0" y="0" font-size="22.25" transform="translate(858.88 250.18) scale(1.117 1)">40</text>
<text x="0" y="0" font-size="22.25" transform="translate(858.88 278.03) scale(1.117 1)">30</text>
<text x="0" y="0" font-size="22.25" transform="translate(858.88 305.88) scale(1.117 1)">20</text>
<text x="0" y="0" font-size="22.25" transform="translate(858.88 333.73) scale(1.117 1)">10</text>
<text x="0" y="0" font-size="22.25" transform="translate(872.67 361.58) scale(1.117 1)">0</text>
<line x1="889.8" y1="351.3" x2="1449.7" y2="351.3" stroke="#000" stroke-width="2.3"/>
<line x1="969.7" y1="351.3" x2="969.7" y2="361.2" stroke="#000" stroke-width="2.2"/>
<line x1="1106.7" y1="351.3" x2="1106.7" y2="361.2" stroke="#000" stroke-width="2.2"/>
<line x1="1243.7" y1="351.3" x2="1243.7" y2="361.2" stroke="#000" stroke-width="2.2"/>
<line x1="1381.1" y1="351.3" x2="1381.1" y2="361.2" stroke="#000" stroke-width="2.2"/>
<path d="M927.2 189.9V98.1H960.9V189.9" fill="none" stroke="#000" stroke-width="2"/>
<path d="M927.2 211.5V351M960.9 211.5V351" fill="none" stroke="#000" stroke-width="2"/>
<rect x="977" y="161.2" width="36.6" height="28.7" fill="#000"/>
<rect x="977" y="211.5" width="36.6" height="140" fill="#000"/>
<path d="M944.2 98.1V94.1M934.4 94.1H954" fill="none" stroke="#000" stroke-width="2.0"/>
<path d="M995.4 161.2V144.7M985.8 144.7H1005" fill="none" stroke="#000" stroke-width="2.0"/>
<rect x="1064.6" y="325" width="33.4" height="26.3" fill="#fff" stroke="#000" stroke-width="2.0"/>
<rect x="1114.3" y="332.8" width="36.4" height="18.5" fill="#000"/>
<rect x="1201.3" y="238.7" width="33.5" height="112.6" fill="#fff" stroke="#000" stroke-width="2.0"/>
<rect x="1251.4" y="229.8" width="36.3" height="121.5" fill="#000"/>
<path d="M1218.3 238.7V232.6M1208.8 232.6H1227.8" fill="none" stroke="#000" stroke-width="2.0"/>
<path d="M1269.9 230.8V225.5M1260 225.5H1279.8" fill="none" stroke="#000" stroke-width="2.0"/>
<rect x="1339" y="300.3" width="33.4" height="51" fill="#fff" stroke="#000" stroke-width="2.0"/>
<rect x="1388.5" y="299.3" width="36.6" height="52" fill="#000"/>
<line x1="938.1" y1="83.1" x2="1002.1" y2="83.1" stroke="#000" stroke-width="2.2"/>
<path d="M951.5 67.9l0.00 -6.20M951.5 67.9l-7.40 -1.70M951.5 67.9l7.40 -1.70M951.5 67.9l-4.30 5.30M951.5 67.9l4.30 5.30" stroke="#000" stroke-width="2.90" stroke-linecap="round" fill="none"/>
<path d="M973.5 67.9l0.00 -6.20M973.5 67.9l-7.40 -1.70M973.5 67.9l7.40 -1.70M973.5 67.9l-4.30 5.30M973.5 67.9l4.30 5.30" stroke="#000" stroke-width="2.90" stroke-linecap="round" fill="none"/>
<path d="M995.5 67.9l0.00 -6.20M995.5 67.9l-7.40 -1.70M995.5 67.9l7.40 -1.70M995.5 67.9l-4.30 5.30M995.5 67.9l4.30 5.30" stroke="#000" stroke-width="2.90" stroke-linecap="round" fill="none"/>
<text x="0" y="0" font-size="22.86" letter-spacing="2.33" transform="translate(933.77 388.77) scale(1.000 1)">F4/80</text>
<text x="0" y="0" font-size="23.66" letter-spacing="2.21" transform="translate(1065.82 388.76) scale(1.000 1)">CD206</text>
<text x="0" y="0" font-size="23.66" letter-spacing="2.10" transform="translate(1203.42 388.76) scale(1.000 1)">CD11c</text>
<text x="0" y="0" font-size="23.66" letter-spacing="1.78" transform="translate(1346.72 388.76) scale(1.000 1)">CD80</text>
<text x="0" y="0" font-size="23.48" transform="translate(837.00 212.73) rotate(-90) scale(0.923 1)">MFI</text>
<rect x="1246.1" y="57.7" width="39.6" height="17" fill="#fff" stroke="#000" stroke-width="1.9"/>
<rect x="1245.2" y="93" width="41.6" height="18.7" fill="#000"/>
<text x="0" y="0" font-size="21.90" letter-spacing="2.52" transform="translate(1303.01 73.98) scale(1.190 1)">Medium</text>
<text x="0" y="0" font-size="23.77" letter-spacing="0.99" transform="translate(1303.40 111.00) scale(1.190 1)">AA</text>
<text x="0" y="0" font-size="34.64" font-weight="bold" transform="translate(-0.16 453.70) scale(0.961 1)">B</text>
<path d="M100.5 765.0 L101.5 724.2 L110.6 702.1 L121.1 683.8 L128.9 657.7 L134.1 617.3 L139.3 595.2 L144.5 578.2 L148.5 545.6 L151.1 528.7 L155.0 530.0 L158.9 522.2 L161.5 513.0 L162.8 493.5 L164.1 484.3 L166.1 485.0 L168.0 486.9 L169.3 494.8 L170.6 493.5 L171.9 486.9 L173.2 486.9 L175.2 507.8 L178.4 535.2 L181.0 553.4 L183.7 567.8 L186.3 584.7 L190.2 595.2 L192.8 610.8 L194.7 631.7 L196.7 655.1 L199.3 669.5 L201.9 689.0 L205.8 703.4 L208.4 717.7 L211.0 730.8 L213.6 743.8 L216.3 751.6 L220.2 756.8 L225.4 762.0 L231.9 764.0 L238.4 764.7 L244.9 765.7 L255.0 765.5Z" fill="#e3e3e3"/>
<path d="M102.2 725.5 L104.1 717.7 L106.7 713.8 L109.3 713.8 L111.9 707.3 L114.6 699.5 L117.8 691.6 L121.1 681.2 L124.3 676.0 L126.3 672.1 L128.2 661.7 L130.2 643.4 L132.8 622.5 L135.4 603.0 L138.0 591.3 L140.6 583.4 L141.9 576.9 L143.9 587.3 L145.2 571.7 L147.2 558.7 L149.1 522.2 L150.4 532.6 L152.4 516.9 L154.3 527.4 L155.6 543.0 L156.9 531.3 L158.9 519.5 L160.8 516.9 L162.8 500.0 L164.1 484.3 L166.1 485.0 L168.0 485.6 L169.3 494.8 L170.6 493.5 L171.9 486.9 L173.2 486.9 L175.2 509.1 L177.1 535.2 L179.1 528.7 L180.4 519.5 L181.7 530.0 L183.7 558.7 L185.0 578.2 L187.6 589.9 L190.2 592.6 L192.1 606.9 L194.1 623.8 L196.7 643.4 L198.7 653.8 L200.6 651.2 L203.2 660.4 L205.8 665.6 L207.8 683.8 L210.4 691.6 L212.3 702.1 L214.9 712.5 L216.9 715.1 L220.2 722.9 L222.8 726.8 L225.4 733.4 L228.0 736.0 L231.2 739.9 L235.8 745.1 L239.7 749.0 L244.9 752.9 L250.1 755.5 L255.0 755.5 L264.5 757.9 L274.4 760.5 L281.0 763.1 L297.5 763.1 L330.6 763.8 L363.6 763.8 L400.0 764.1" fill="none" stroke="#444" stroke-width="2" stroke-linejoin="round"/>
<path d="M102.2 724.2 L103.5 715.1 L105.4 708.6 L108.0 706.0 L111.9 699.5 L114.6 696.9 L116.5 683.8 L117.8 674.7 L119.1 678.6 L121.1 674.7 L125.0 669.5 L126.9 665.6 L128.2 663.0 L129.6 639.5 L131.5 618.6 L133.5 618.0 L135.4 597.8 L138.0 587.3 L140.0 573.0 L141.3 580.8 L142.6 589.9 L143.9 576.9 L145.2 574.3 L147.2 561.3 L148.5 524.8 L149.8 514.3 L151.1 524.8 L152.4 516.9 L154.3 527.4 L156.3 545.6 L158.2 516.9 L160.2 515.6 L162.1 496.1 L163.4 484.3 L164.8 496.1 L166.7 511.7 L169.3 534.5 L171.9 522.2 L173.9 518.2 L176.5 545.6 L178.4 527.4 L180.0 510.4 L181.7 526.1 L183.0 553.4 L185.0 574.3 L186.9 575.6 L189.5 584.7 L192.1 597.8 L194.1 583.4 L196.0 586.0 L198.0 610.8 L200.0 633.0 L202.6 626.5 L205.2 621.2 L207.1 631.7 L209.1 644.7 L211.0 648.6 L213.0 660.4 L214.3 659.0 L216.3 657.7 L218.2 669.5 L220.2 673.4 L222.1 673.4 L224.1 679.9 L225.4 683.8 L228.0 678.6 L230.6 665.6 L232.5 673.4 L234.5 691.6 L236.5 696.9 L238.4 702.1 L240.4 704.7 L242.3 702.1 L244.9 709.9 L247.5 713.8 L250.1 715.1 L252.1 702.1 L255.0 702.1 L257.9 710.9 L264.5 704.3 L269.4 710.9 L274.4 710.9 L281.0 712.6 L284.3 699.3 L290.9 702.6 L299.2 694.4 L302.5 697.7 L307.4 701.0 L312.4 687.8 L317.4 666.3 L322.3 656.4 L325.6 658.0 L328.9 666.3 L332.2 648.1 L335.5 639.8 L338.8 642.1 L340.5 638.2 L343.8 664.6 L350.4 681.2 L355.4 694.4 L360.3 717.5 L365.3 737.4 L370.2 744.0 L375.2 750.6 L380.2 755.5 L385.1 757.2 L390.1 758.8 L395.0 760.5 L400.0 756.5" fill="none" stroke="#000" stroke-width="2.1" stroke-linejoin="round"/>
<line x1="100.3" y1="765" x2="100.3" y2="469" stroke="#444" stroke-width="2"/>
<rect x="97.7" y="468" width="304" height="297" fill="none" stroke="#555" stroke-width="1.5"/>
<line x1="97.7" y1="765" x2="401.7" y2="765" stroke="#222" stroke-width="2"/>
<line x1="97.7" y1="468" x2="97.7" y2="765" stroke="#333" stroke-width="1.6"/>
<path d="M97.7 765v8M120.5 765v4M133.9 765v4M143.3 765v4M150.7 765v5.5M156.7 765v4M161.8 765v4M166.2 765v4M170.0 765v4M173.5 765v8M196.3 765v4M209.7 765v4M219.1 765v4M226.5 765v5.5M232.5 765v4M237.6 765v4M242.0 765v4M245.8 765v4M249.3 765v8M272.1 765v4M285.5 765v4M294.9 765v4M302.3 765v5.5M308.3 765v4M313.4 765v4M317.8 765v4M321.6 765v4M325.1 765v8M347.9 765v4M361.3 765v4M370.7 765v4M378.1 765v5.5M384.1 765v4M389.2 765v4M393.6 765v4M397.4 765v4M400.9 765v8M97.7 765.0h-7.5M97.7 753.7h-3.5M97.7 742.3h-3.5M97.7 731.0h-3.5M97.7 719.7h-3.5M97.7 708.4h-7.5M97.7 697.0h-3.5M97.7 685.7h-3.5M97.7 674.4h-3.5M97.7 663.0h-3.5M97.7 651.7h-7.5M97.7 640.4h-3.5M97.7 629.1h-3.5M97.7 617.7h-3.5M97.7 606.4h-3.5M97.7 595.1h-7.5M97.7 583.8h-3.5M97.7 572.4h-3.5M97.7 561.1h-3.5M97.7 549.8h-3.5M97.7 538.4h-7.5M97.7 527.1h-3.5M97.7 515.8h-3.5M97.7 504.5h-3.5M97.7 493.1h-3.5M97.7 481.8h-7.5" fill="none" stroke="#333" stroke-width="1.3"/>
<text x="0" y="0" font-size="12.54" letter-spacing="0.06" transform="translate(86.16 794.27) scale(1.000 1)">10</text>
<text x="0" y="0" font-size="8.73" transform="translate(103.05 787.01) scale(1.000 1)">0</text>
<text x="0" y="0" font-size="12.54" letter-spacing="0.06" transform="translate(161.96 794.27) scale(1.000 1)">10</text>
<text x="0" y="0" font-size="8.99" transform="translate(178.53 787.10) scale(1.000 1)">1</text>
<text x="0" y="0" font-size="12.54" letter-spacing="0.06" transform="translate(237.76 794.27) scale(1.000 1)">10</text>
<text x="0" y="0" font-size="8.86" transform="translate(254.56 787.10) scale(1.000 1)">2</text>
<text x="0" y="0" font-size="12.54" letter-spacing="0.06" transform="translate(313.56 794.27) scale(1.000 1)">10</text>
<text x="0" y="0" font-size="8.73" transform="translate(330.45 787.01) scale(1.000 1)">3</text>
<text x="0" y="0" font-size="12.54" letter-spacing="0.06" transform="translate(389.36 794.27) scale(1.000 1)">10</text>
<text x="0" y="0" font-size="8.99" transform="translate(406.42 787.10) scale(1.000 1)">4</text>
<text x="0" y="0" font-size="11.97" transform="translate(75.52 770.98) scale(1.170 1)">0</text>
<text x="0" y="0" font-size="11.97" transform="translate(67.74 714.34) scale(1.170 1)">20</text>
<text x="0" y="0" font-size="11.97" transform="translate(67.74 657.70) scale(1.170 1)">40</text>
<text x="0" y="0" font-size="11.97" transform="translate(67.74 601.06) scale(1.170 1)">60</text>
<text x="0" y="0" font-size="11.97" transform="translate(67.74 544.42) scale(1.170 1)">80</text>
<text x="0" y="0" font-size="11.97" transform="translate(59.97 487.78) scale(1.170 1)">100</text>
<text x="0" y="0" font-size="24.76" font-weight="bold" transform="translate(52.65 658.49) rotate(-90) scale(0.791 1)">% of Max</text>
<text x="0" y="0" font-size="18.87" transform="translate(226.48 813.41) scale(1.073 1)">ROS</text>
<rect x="282.8" y="468.3" width="193.9" height="71.3" fill="#fff" stroke="#333" stroke-width="1.5"/>
<rect x="290.7" y="473.8" width="17.1" height="16.2" fill="#555" stroke="#222" stroke-width="1.2"/>
<rect x="311" y="473.8" width="17.2" height="16.2" fill="#fff" stroke="#222" stroke-width="1.2"/>
<line x1="311" y1="481.9" x2="328.2" y2="481.9" stroke="#000" stroke-width="1.6"/>
<text x="0" y="0" font-size="14.38" transform="translate(334.98 488.32) scale(1.060 1)">ROS_AA 2h.fcs</text>
<rect x="290.7" y="495.5" width="17.1" height="16.8" fill="#000" stroke="#222" stroke-width="1.2"/>
<rect x="311" y="495.5" width="17.2" height="16.8" fill="#fff" stroke="#222" stroke-width="1.2"/>
<line x1="311" y1="503.9" x2="328.2" y2="503.9" stroke="#000" stroke-width="1.6"/>
<text x="0" y="0" font-size="14.49" transform="translate(334.98 510.50) scale(1.052 1)">ROS_AA 4h.fcs</text>
<rect x="290.7" y="517.6" width="17.1" height="16.8" fill="#e3e3e3" stroke="#222" stroke-width="1.2"/>
<rect x="311" y="517.6" width="17.2" height="16.8" fill="#fff" stroke="#222" stroke-width="1.2"/>
<rect x="311" y="526" width="17.2" height="8.4" fill="#000"/>
<text x="0" y="0" font-size="14.38" transform="translate(334.98 532.42) scale(1.063 1)">ROS_medium.fcs</text>
<path d="M580.2 765.1V474" fill="none" stroke="#000" stroke-width="2.2"/>
<line x1="571.7" y1="765.1" x2="580.2" y2="765.1" stroke="#000" stroke-width="2.2"/>
<text x="0" y="0" font-size="22.54" transform="translate(557.77 773.67) scale(0.950 1)">0</text>
<line x1="571.7" y1="692.3" x2="580.2" y2="692.3" stroke="#000" stroke-width="2.2"/>
<text x="0" y="0" font-size="22.54" transform="translate(545.89 700.87) scale(0.950 1)">10</text>
<line x1="571.7" y1="619.5" x2="580.2" y2="619.5" stroke="#000" stroke-width="2.2"/>
<text x="0" y="0" font-size="22.54" transform="translate(545.89 628.07) scale(0.950 1)">20</text>
<line x1="571.7" y1="546.7" x2="580.2" y2="546.7" stroke="#000" stroke-width="2.2"/>
<text x="0" y="0" font-size="22.54" transform="translate(545.89 555.27) scale(0.950 1)">30</text>
<line x1="571.7" y1="473.9" x2="580.2" y2="473.9" stroke="#000" stroke-width="2.2"/>
<text x="0" y="0" font-size="22.54" transform="translate(545.89 482.47) scale(0.950 1)">40</text>
<line x1="571" y1="765.1" x2="964.3" y2="765.1" stroke="#000" stroke-width="2.4"/>
<line x1="643.7" y1="765.1" x2="643.7" y2="774.6" stroke="#000" stroke-width="2.4"/>
<line x1="770.9" y1="765.1" x2="770.9" y2="774.6" stroke="#000" stroke-width="2.4"/>
<line x1="899.2" y1="765.1" x2="899.2" y2="774.6" stroke="#000" stroke-width="2.4"/>
<rect x="601.6" y="746.7" width="84.1" height="18.4" fill="#fff" stroke="#000" stroke-width="2.2"/>
<rect x="728" y="732.7" width="86.8" height="32.4" fill="#000"/>
<rect x="857.4" y="520.9" width="83.9" height="244.2" fill="#808080" stroke="#000" stroke-width="2.2"/>
<path d="M643.6 745.6V745M621.1 745H666.1" fill="none" stroke="#000" stroke-width="2.4"/>
<path d="M771.4 732.7V730.4M749.9 730.4H792.9" fill="none" stroke="#000" stroke-width="2.4"/>
<path d="M900.2 519.8V517.4M878.2 517.4H922.2" fill="none" stroke="#000" stroke-width="2.4"/>
<line x1="639.6" y1="474.4" x2="898.5" y2="474.4" stroke="#000" stroke-width="2.5"/>
<path d="M751.1 460.9l0.00 -4.96M751.1 460.9l-5.92 -1.36M751.1 460.9l5.92 -1.36M751.1 460.9l-3.44 4.24M751.1 460.9l3.44 4.24" stroke="#000" stroke-width="2.46" stroke-linecap="round" fill="none"/>
<path d="M768.6 460.9l0.00 -4.96M768.6 460.9l-5.92 -1.36M768.6 460.9l5.92 -1.36M768.6 460.9l-3.44 4.24M768.6 460.9l3.44 4.24" stroke="#000" stroke-width="2.46" stroke-linecap="round" fill="none"/>
<path d="M786.1 460.9l0.00 -4.96M786.1 460.9l-5.92 -1.36M786.1 460.9l5.92 -1.36M786.1 460.9l-3.44 4.24M786.1 460.9l3.44 4.24" stroke="#000" stroke-width="2.46" stroke-linecap="round" fill="none"/>
<line x1="772.9" y1="505.6" x2="898.5" y2="505.6" stroke="#000" stroke-width="2.5"/>
<path d="M816.9 492l0.00 -4.96M816.9 492l-5.92 -1.36M816.9 492l5.92 -1.36M816.9 492l-3.44 4.24M816.9 492l3.44 4.24" stroke="#000" stroke-width="2.46" stroke-linecap="round" fill="none"/>
<path d="M834.4 492l0.00 -4.96M834.4 492l-5.92 -1.36M834.4 492l5.92 -1.36M834.4 492l-3.44 4.24M834.4 492l3.44 4.24" stroke="#000" stroke-width="2.46" stroke-linecap="round" fill="none"/>
<path d="M851.9 492l0.00 -4.96M851.9 492l-5.92 -1.36M851.9 492l5.92 -1.36M851.9 492l-3.44 4.24M851.9 492l3.44 4.24" stroke="#000" stroke-width="2.46" stroke-linecap="round" fill="none"/>
<text x="0" y="0" font-size="21.09" letter-spacing="1.62" transform="translate(603.76 802.39) scale(0.970 1)">Medium</text>
<text x="0" y="0" font-size="21.09" letter-spacing="1.62" transform="translate(742.60 802.39) scale(0.970 1)">AA/2h</text>
<text x="0" y="0" font-size="21.09" letter-spacing="1.65" transform="translate(869.80 802.39) scale(0.970 1)">AA/4h</text>
<text x="0" y="0" font-size="21.93" transform="translate(530.90 765.29) rotate(-90) scale(1.156 1)">% of ROS+ macrophages</text>
<path d="M1052.3 764.5V475.5" fill="none" stroke="#000" stroke-width="2.2"/>
<line x1="1043.8" y1="764.5" x2="1052.3" y2="764.5" stroke="#000" stroke-width="2.2"/>
<text x="0" y="0" font-size="22.54" transform="translate(1030.68 773.07) scale(1.000 1)">0</text>
<line x1="1043.8" y1="668.2" x2="1052.3" y2="668.2" stroke="#000" stroke-width="2.2"/>
<text x="0" y="0" font-size="22.54" transform="translate(1018.17 676.74) scale(1.000 1)">10</text>
<line x1="1043.8" y1="571.8" x2="1052.3" y2="571.8" stroke="#000" stroke-width="2.2"/>
<text x="0" y="0" font-size="22.54" transform="translate(1018.17 580.41) scale(1.000 1)">20</text>
<line x1="1043.8" y1="475.5" x2="1052.3" y2="475.5" stroke="#000" stroke-width="2.2"/>
<text x="0" y="0" font-size="22.54" transform="translate(1018.17 484.08) scale(1.000 1)">30</text>
<line x1="1043.7" y1="764.5" x2="1446.4" y2="764.5" stroke="#000" stroke-width="2.4"/>
<line x1="1117" y1="764.5" x2="1117" y2="774" stroke="#000" stroke-width="2.4"/>
<line x1="1248.9" y1="764.5" x2="1248.9" y2="774" stroke="#000" stroke-width="2.4"/>
<line x1="1380" y1="764.5" x2="1380" y2="774" stroke="#000" stroke-width="2.4"/>
<rect x="1075" y="707.7" width="85.8" height="56.8" fill="#fff" stroke="#000" stroke-width="2.2"/>
<rect x="1204" y="702.2" width="89.7" height="62.3" fill="#000"/>
<rect x="1337" y="528.1" width="86.1" height="236.4" fill="#808080" stroke="#000" stroke-width="2.2"/>
<path d="M1117.7 706.6V704.2M1094.5 704.2H1141" fill="none" stroke="#000" stroke-width="2.4"/>
<path d="M1248.8 702.2V701M1225.6 701H1272" fill="none" stroke="#000" stroke-width="2.4"/>
<path d="M1380 527V519.6M1356.8 519.6H1403.2" fill="none" stroke="#000" stroke-width="2.4"/>
<line x1="1114.4" y1="476.5" x2="1378.4" y2="476.5" stroke="#000" stroke-width="2.5"/>
<path d="M1225.6 461l0.00 -4.96M1225.6 461l-5.92 -1.36M1225.6 461l5.92 -1.36M1225.6 461l-3.44 4.24M1225.6 461l3.44 4.24" stroke="#000" stroke-width="2.46" stroke-linecap="round" fill="none"/>
<path d="M1243.1 461l0.00 -4.96M1243.1 461l-5.92 -1.36M1243.1 461l5.92 -1.36M1243.1 461l-3.44 4.24M1243.1 461l3.44 4.24" stroke="#000" stroke-width="2.46" stroke-linecap="round" fill="none"/>
<path d="M1260.6 461l0.00 -4.96M1260.6 461l-5.92 -1.36M1260.6 461l5.92 -1.36M1260.6 461l-3.44 4.24M1260.6 461l3.44 4.24" stroke="#000" stroke-width="2.46" stroke-linecap="round" fill="none"/>
<line x1="1251.2" y1="507.7" x2="1378.4" y2="507.7" stroke="#000" stroke-width="2.5"/>
<path d="M1299.5 493.5l0.00 -4.96M1299.5 493.5l-5.92 -1.36M1299.5 493.5l5.92 -1.36M1299.5 493.5l-3.44 4.24M1299.5 493.5l3.44 4.24" stroke="#000" stroke-width="2.46" stroke-linecap="round" fill="none"/>
<path d="M1317 493.5l0.00 -4.96M1317 493.5l-5.92 -1.36M1317 493.5l5.92 -1.36M1317 493.5l-3.44 4.24M1317 493.5l3.44 4.24" stroke="#000" stroke-width="2.46" stroke-linecap="round" fill="none"/>
<path d="M1334.5 493.5l0.00 -4.96M1334.5 493.5l-5.92 -1.36M1334.5 493.5l5.92 -1.36M1334.5 493.5l-3.44 4.24M1334.5 493.5l3.44 4.24" stroke="#000" stroke-width="2.46" stroke-linecap="round" fill="none"/>
<text x="0" y="0" font-size="21.09" letter-spacing="2.38" transform="translate(1078.56 800.09) scale(0.970 1)">Medium</text>
<text x="0" y="0" font-size="21.09" letter-spacing="2.24" transform="translate(1217.30 800.09) scale(0.970 1)">AA/2h</text>
<text x="0" y="0" font-size="21.09" letter-spacing="2.24" transform="translate(1348.50 800.09) scale(0.970 1)">AA/4h</text>
<text x="0" y="0" font-size="26.62" transform="translate(1006.93 674.37) rotate(-90) scale(0.926 1)">MFI ROS</text>
<text x="0" y="0" font-size="35.21" font-weight="bold" transform="translate(-0.30 876.45) scale(0.924 1)">C</text>
<text x="0" y="0" font-size="21.36" font-weight="bold" transform="translate(24.59 1074.07) rotate(-90) scale(1.059 1)">Medium</text>
<text x="0" y="0" font-size="20.87" font-weight="bold" transform="translate(26.20 1368.56) rotate(-90) scale(1.082 1)">AA</text>
<g filter="url(#d3)"><ellipse cx="257.4" cy="1010.8" rx="75" ry="88" fill="url(#g6)" transform="rotate(10 257.4 1010.8)"/><ellipse cx="261.4" cy="1000.8" rx="42" ry="54" fill="url(#g7)" transform="rotate(18 261.4 1000.8)"/><ellipse cx="225.4" cy="1046.8" rx="45" ry="35" fill="url(#g8)" transform="rotate(-20 225.4 1046.8)"/><ellipse cx="247.4" cy="1056.8" rx="80" ry="35" fill="url(#g9)"/><ellipse cx="142.4" cy="1024.8" rx="70" ry="18" fill="url(#g10)"/><ellipse cx="142.4" cy="1110.8" rx="72" ry="24" fill="url(#g11)" transform="rotate(-37 142.4 1110.8)"/><ellipse cx="157.4" cy="1071.8" rx="95" ry="85" fill="url(#g12)"/><ellipse cx="227.4" cy="1111.8" rx="90" ry="50" fill="url(#g13)"/><ellipse cx="247.4" cy="936.8" rx="90" ry="40" fill="url(#g14)"/><rect x="99" y="985" width="1.5" height="170" opacity=".45"/><rect x="100" y="1155" width="200" height="1.5" opacity=".35"/></g>
<rect x="180.6" y="946.8" width="134" height="133.5" fill="none" stroke="#555" stroke-width="1.2"/>
<rect x="194.2" y="980.3" width="23.2" height="18.4" fill="#fff"/>
<text x="0" y="0" font-size="17.71" transform="translate(195.80 995.70) scale(1.017 1)">72</text>
<rect x="97.4" y="896.8" width="265.6" height="262" fill="none" stroke="#555" stroke-width="1.5"/>
<line x1="97.4" y1="1158.8" x2="363" y2="1158.8" stroke="#333" stroke-width="2"/>
<line x1="97.4" y1="896.8" x2="97.4" y2="1158.8" stroke="#444" stroke-width="1.6"/>
<path d="M97.4 1158.8v7.5M117.4 1158.8v3.5M129.1 1158.8v3.5M137.4 1158.8v3.5M143.8 1158.8v5.5M149.1 1158.8v3.5M153.5 1158.8v3.5M157.4 1158.8v3.5M160.8 1158.8v3.5M163.8 1158.8v7.5M183.8 1158.8v3.5M195.5 1158.8v3.5M203.8 1158.8v3.5M210.2 1158.8v5.5M215.5 1158.8v3.5M219.9 1158.8v3.5M223.8 1158.8v3.5M227.2 1158.8v3.5M230.2 1158.8v7.5M250.2 1158.8v3.5M261.9 1158.8v3.5M270.2 1158.8v3.5M276.6 1158.8v5.5M281.9 1158.8v3.5M286.3 1158.8v3.5M290.2 1158.8v3.5M293.6 1158.8v3.5M296.6 1158.8v7.5M316.6 1158.8v3.5M328.3 1158.8v3.5M336.6 1158.8v3.5M343 1158.8v5.5M348.3 1158.8v3.5M352.7 1158.8v3.5M356.6 1158.8v3.5M360 1158.8v3.5M363 1158.8v7.5M97.4 1158.8h-7M97.4 1139.1h-3M97.4 1127.5h-3M97.4 1119.4h-3M97.4 1113h-5M97.4 1107.8h-3M97.4 1103.4h-3M97.4 1099.6h-3M97.4 1096.3h-3M97.4 1093.3h-7M97.4 1073.6h-3M97.4 1062h-3M97.4 1053.9h-3M97.4 1047.5h-5M97.4 1042.3h-3M97.4 1037.9h-3M97.4 1034.1h-3M97.4 1030.8h-3M97.4 1027.8h-7M97.4 1008.1h-3M97.4 996.5h-3M97.4 988.4h-3M97.4 982h-5M97.4 976.8h-3M97.4 972.4h-3M97.4 968.6h-3M97.4 965.3h-3M97.4 962.3h-7M97.4 942.6h-3M97.4 931h-3M97.4 922.9h-3M97.4 916.5h-5M97.4 911.3h-3M97.4 906.9h-3M97.4 903.1h-3M97.4 899.8h-3M97.4 896.8h-7" fill="none" stroke="#333" stroke-width="1.3"/>
<text x="88.14" y="1183.65" font-size="11.01">10</text>
<text x="100.78" y="1177.55" font-size="9.72">0</text>
<text x="154.75" y="1183.65" font-size="11.01">10</text>
<text x="167.06" y="1177.55" font-size="9.72">1</text>
<text x="221.06" y="1183.65" font-size="11.01">10</text>
<text x="233.61" y="1177.55" font-size="9.72">2</text>
<text x="287.36" y="1183.65" font-size="11.01">10</text>
<text x="300.01" y="1177.55" font-size="9.72">3</text>
<text x="353.61" y="1183.65" font-size="11.01">10</text>
<text x="366.46" y="1177.55" font-size="9.72">4</text>
<text x="69.12" y="1163.53" font-size="11.01">10</text>
<text x="81.77" y="1157.42" font-size="9.72">0</text>
<text x="69.56" y="1098.03" font-size="11.01">10</text>
<text x="81.87" y="1091.92" font-size="9.72">1</text>
<text x="69.36" y="1032.53" font-size="11.01">10</text>
<text x="81.91" y="1026.42" font-size="9.72">2</text>
<text x="69.17" y="967.03" font-size="11.01">10</text>
<text x="81.82" y="960.92" font-size="9.72">3</text>
<text x="68.88" y="901.53" font-size="11.01">10</text>
<text x="81.72" y="895.42" font-size="9.72">4</text>
<text x="0" y="0" font-size="18.10" transform="translate(57.72 1086.71) rotate(-90) scale(1.005 1)">CD11b-BV510</text>
<text x="0" y="0" font-size="18.10" transform="translate(182.83 1205.72) scale(1.153 1)">F4/80-APC</text>
<g filter="url(#d4)"><ellipse cx="550.5" cy="991.7" rx="100" ry="55" fill="url(#g15)"/><ellipse cx="507.5" cy="1001.7" rx="45" ry="32" fill="url(#g16)"/><ellipse cx="571.5" cy="994.7" rx="50" ry="38" fill="url(#g16)"/><ellipse cx="543.5" cy="1091.7" rx="52" ry="92" fill="url(#g17)"/><ellipse cx="547.5" cy="1036.7" rx="40" ry="30" fill="url(#g18)"/><ellipse cx="529.5" cy="1066.7" rx="130" ry="110" fill="url(#g3)"/><ellipse cx="619.5" cy="1006.7" rx="60" ry="80" fill="url(#g19)"/><rect x="432" y="1155" width="260" height="1.5" opacity=".35"/></g>
<rect x="465.5" y="922.5" width="165.4" height="103.5" fill="none" stroke="#555" stroke-width="1.2"/>
<rect x="472.9" y="940.3" width="40.1" height="18.4" fill="#fff"/>
<text x="0" y="0" font-size="17.46" transform="translate(474.46 955.53) scale(1.078 1)">26.4</text>
<rect x="429.5" y="896.7" width="266" height="261.3" fill="none" stroke="#555" stroke-width="1.5"/>
<line x1="429.5" y1="1158" x2="695.5" y2="1158" stroke="#333" stroke-width="2"/>
<line x1="429.5" y1="896.7" x2="429.5" y2="1158" stroke="#444" stroke-width="1.6"/>
<path d="M429.5 1158v7.5M449.5 1158v3.5M461.2 1158v3.5M469.5 1158v3.5M476 1158v5.5M481.2 1158v3.5M485.7 1158v3.5M489.6 1158v3.5M493 1158v3.5M496 1158v7.5M516 1158v3.5M527.7 1158v3.5M536 1158v3.5M542.5 1158v5.5M547.7 1158v3.5M552.2 1158v3.5M556.1 1158v3.5M559.5 1158v3.5M562.5 1158v7.5M582.5 1158v3.5M594.2 1158v3.5M602.5 1158v3.5M609 1158v5.5M614.2 1158v3.5M618.7 1158v3.5M622.6 1158v3.5M626 1158v3.5M629 1158v7.5M649 1158v3.5M660.7 1158v3.5M669 1158v3.5M675.5 1158v5.5M680.7 1158v3.5M685.2 1158v3.5M689.1 1158v3.5M692.5 1158v3.5M695.5 1158v7.5M429.5 1158h-7M429.5 1138.3h-3M429.5 1126.8h-3M429.5 1118.7h-3M429.5 1112.3h-5M429.5 1107.2h-3M429.5 1102.8h-3M429.5 1099h-3M429.5 1095.7h-3M429.5 1092.7h-7M429.5 1073h-3M429.5 1061.5h-3M429.5 1053.3h-3M429.5 1047h-5M429.5 1041.8h-3M429.5 1037.5h-3M429.5 1033.7h-3M429.5 1030.3h-3M429.5 1027.3h-7M429.5 1007.7h-3M429.5 996.2h-3M429.5 988h-3M429.5 981.7h-5M429.5 976.5h-3M429.5 972.1h-3M429.5 968.4h-3M429.5 965h-3M429.5 962h-7M429.5 942.4h-3M429.5 930.9h-3M429.5 922.7h-3M429.5 916.4h-5M429.5 911.2h-3M429.5 906.8h-3M429.5 903h-3M429.5 899.7h-3M429.5 896.7h-7" fill="none" stroke="#333" stroke-width="1.3"/>
<text x="420.24" y="1182.85" font-size="11.01">10</text>
<text x="432.88" y="1176.75" font-size="9.72">0</text>
<text x="486.95" y="1182.85" font-size="11.01">10</text>
<text x="499.26" y="1176.75" font-size="9.72">1</text>
<text x="553.36" y="1182.85" font-size="11.01">10</text>
<text x="565.91" y="1176.75" font-size="9.72">2</text>
<text x="619.76" y="1182.85" font-size="11.01">10</text>
<text x="632.41" y="1176.75" font-size="9.72">3</text>
<text x="686.11" y="1182.85" font-size="11.01">10</text>
<text x="698.96" y="1176.75" font-size="9.72">4</text>
<text x="401.22" y="1162.73" font-size="11.01">10</text>
<text x="413.87" y="1156.62" font-size="9.72">0</text>
<text x="401.66" y="1097.40" font-size="11.01">10</text>
<text x="413.97" y="1091.30" font-size="9.72">1</text>
<text x="401.46" y="1032.08" font-size="11.01">10</text>
<text x="414.01" y="1025.97" font-size="9.72">2</text>
<text x="401.27" y="966.76" font-size="11.01">10</text>
<text x="413.92" y="960.65" font-size="9.72">3</text>
<text x="400.98" y="901.43" font-size="11.01">10</text>
<text x="413.82" y="895.32" font-size="9.72">4</text>
<text x="0" y="0" font-size="19.18" transform="translate(392.31 1053.57) rotate(-90) scale(0.906 1)">CM-DiI</text>
<text x="0" y="0" font-size="18.61" transform="translate(504.14 1204.29) scale(1.116 1)">Ly6G-PE/Cy7</text>
<g filter="url(#d5)"><g clip-path="url(#cp3)"><ellipse cx="880.5" cy="1004.7" rx="98" ry="65" fill="url(#g20)"/><ellipse cx="840.5" cy="1004.7" rx="48" ry="35" fill="url(#g21)"/><ellipse cx="900.5" cy="996.7" rx="52" ry="42" fill="url(#g16)"/></g></g>
<rect x="870.2" y="926.2" width="92.8" height="101.6" fill="none" stroke="#555" stroke-width="1.2"/>
<rect x="929.5" y="948.3" width="41.6" height="18.4" fill="#fff"/>
<text x="0" y="0" font-size="17.46" transform="translate(931.01 963.53) scale(1.136 1)">63.2</text>
<rect x="762.5" y="896.7" width="267" height="261.3" fill="none" stroke="#555" stroke-width="1.5"/>
<line x1="762.5" y1="1158" x2="1029.5" y2="1158" stroke="#333" stroke-width="2"/>
<line x1="762.5" y1="896.7" x2="762.5" y2="1158" stroke="#444" stroke-width="1.6"/>
<path d="M762.5 1158v7.5M782.6 1158v3.5M794.3 1158v3.5M802.7 1158v3.5M809.2 1158v5.5M814.4 1158v3.5M818.9 1158v3.5M822.8 1158v3.5M826.2 1158v3.5M829.2 1158v7.5M849.3 1158v3.5M861.1 1158v3.5M869.4 1158v3.5M875.9 1158v5.5M881.2 1158v3.5M885.7 1158v3.5M889.5 1158v3.5M892.9 1158v3.5M896 1158v7.5M916.1 1158v3.5M927.8 1158v3.5M936.2 1158v3.5M942.7 1158v5.5M947.9 1158v3.5M952.4 1158v3.5M956.3 1158v3.5M959.7 1158v3.5M962.8 1158v7.5M982.8 1158v3.5M994.6 1158v3.5M1002.9 1158v3.5M1009.4 1158v5.5M1014.7 1158v3.5M1019.2 1158v3.5M1023 1158v3.5M1026.4 1158v3.5M1029.5 1158v7.5M762.5 1158h-7M762.5 1138.3h-3M762.5 1126.8h-3M762.5 1118.7h-3M762.5 1112.3h-5M762.5 1107.2h-3M762.5 1102.8h-3M762.5 1099h-3M762.5 1095.7h-3M762.5 1092.7h-7M762.5 1073h-3M762.5 1061.5h-3M762.5 1053.3h-3M762.5 1047h-5M762.5 1041.8h-3M762.5 1037.5h-3M762.5 1033.7h-3M762.5 1030.3h-3M762.5 1027.3h-7M762.5 1007.7h-3M762.5 996.2h-3M762.5 988h-3M762.5 981.7h-5M762.5 976.5h-3M762.5 972.1h-3M762.5 968.4h-3M762.5 965h-3M762.5 962h-7M762.5 942.4h-3M762.5 930.9h-3M762.5 922.7h-3M762.5 916.4h-5M762.5 911.2h-3M762.5 906.8h-3M762.5 903h-3M762.5 899.7h-3M762.5 896.7h-7" fill="none" stroke="#333" stroke-width="1.3"/>
<text x="753.24" y="1182.85" font-size="11.01">10</text>
<text x="765.88" y="1176.75" font-size="9.72">0</text>
<text x="820.20" y="1182.85" font-size="11.01">10</text>
<text x="832.51" y="1176.75" font-size="9.72">1</text>
<text x="886.86" y="1182.85" font-size="11.01">10</text>
<text x="899.41" y="1176.75" font-size="9.72">2</text>
<text x="953.51" y="1182.85" font-size="11.01">10</text>
<text x="966.16" y="1176.75" font-size="9.72">3</text>
<text x="1020.11" y="1182.85" font-size="11.01">10</text>
<text x="1032.96" y="1176.75" font-size="9.72">4</text>
<text x="734.22" y="1162.73" font-size="11.01">10</text>
<text x="746.87" y="1156.62" font-size="9.72">0</text>
<text x="734.66" y="1097.40" font-size="11.01">10</text>
<text x="746.97" y="1091.30" font-size="9.72">1</text>
<text x="734.46" y="1032.08" font-size="11.01">10</text>
<text x="747.01" y="1025.97" font-size="9.72">2</text>
<text x="734.27" y="966.76" font-size="11.01">10</text>
<text x="746.92" y="960.65" font-size="9.72">3</text>
<text x="733.98" y="901.43" font-size="11.01">10</text>
<text x="746.82" y="895.32" font-size="9.72">4</text>
<text x="0" y="0" font-size="19.18" transform="translate(725.81 1053.57) rotate(-90) scale(0.906 1)">CM-DiI</text>
<text x="0" y="0" font-size="18.61" transform="translate(838.14 1204.29) scale(1.115 1)">Ly6G-PE/Cy7</text>
<g filter="url(#d6)"><ellipse cx="252.4" cy="1334.2" rx="80" ry="88" fill="url(#g6)" transform="rotate(-15 252.4 1334.2)"/><ellipse cx="250.4" cy="1323.2" rx="44" ry="56" fill="url(#g7)" transform="rotate(-20 250.4 1323.2)"/><ellipse cx="209.4" cy="1362.2" rx="40" ry="28" fill="url(#g22)" transform="rotate(-30 209.4 1362.2)"/><ellipse cx="237.4" cy="1381.2" rx="70" ry="30" fill="url(#g18)"/><ellipse cx="139.4" cy="1341.2" rx="70" ry="20" fill="url(#g23)"/><ellipse cx="139.4" cy="1431.2" rx="55" ry="28" fill="url(#g24)" transform="rotate(-40 139.4 1431.2)"/><ellipse cx="152.4" cy="1396.2" rx="100" ry="95" fill="url(#g25)"/><ellipse cx="217.4" cy="1421.2" rx="80" ry="40" fill="url(#g3)"/><ellipse cx="247.4" cy="1246.2" rx="90" ry="40" fill="url(#g14)"/><rect x="99" y="1310" width="1.5" height="165" opacity=".45"/><rect x="100" y="1474" width="200" height="1.5" opacity=".35"/></g>
<rect x="181.1" y="1265.9" width="133.7" height="133.5" fill="none" stroke="#555" stroke-width="1.2"/>
<rect x="178.1" y="1298.9" width="40.4" height="18.4" fill="#fff"/>
<text x="0" y="0" font-size="17.46" transform="translate(179.65 1314.13) scale(1.093 1)">68.6</text>
<rect x="97.4" y="1216.2" width="265.6" height="261.7" fill="none" stroke="#555" stroke-width="1.5"/>
<line x1="97.4" y1="1477.9" x2="363" y2="1477.9" stroke="#333" stroke-width="2"/>
<line x1="97.4" y1="1216.2" x2="97.4" y2="1477.9" stroke="#444" stroke-width="1.6"/>
<path d="M97.4 1477.9v7.5M117.4 1477.9v3.5M129.1 1477.9v3.5M137.4 1477.9v3.5M143.8 1477.9v5.5M149.1 1477.9v3.5M153.5 1477.9v3.5M157.4 1477.9v3.5M160.8 1477.9v3.5M163.8 1477.9v7.5M183.8 1477.9v3.5M195.5 1477.9v3.5M203.8 1477.9v3.5M210.2 1477.9v5.5M215.5 1477.9v3.5M219.9 1477.9v3.5M223.8 1477.9v3.5M227.2 1477.9v3.5M230.2 1477.9v7.5M250.2 1477.9v3.5M261.9 1477.9v3.5M270.2 1477.9v3.5M276.6 1477.9v5.5M281.9 1477.9v3.5M286.3 1477.9v3.5M290.2 1477.9v3.5M293.6 1477.9v3.5M296.6 1477.9v7.5M316.6 1477.9v3.5M328.3 1477.9v3.5M336.6 1477.9v3.5M343 1477.9v5.5M348.3 1477.9v3.5M352.7 1477.9v3.5M356.6 1477.9v3.5M360 1477.9v3.5M363 1477.9v7.5M97.4 1477.9h-7M97.4 1458.2h-3M97.4 1446.7h-3M97.4 1438.5h-3M97.4 1432.2h-5M97.4 1427h-3M97.4 1422.6h-3M97.4 1418.8h-3M97.4 1415.5h-3M97.4 1412.5h-7M97.4 1392.8h-3M97.4 1381.3h-3M97.4 1373.1h-3M97.4 1366.7h-5M97.4 1361.6h-3M97.4 1357.2h-3M97.4 1353.4h-3M97.4 1350h-3M97.4 1347.1h-7M97.4 1327.4h-3M97.4 1315.8h-3M97.4 1307.7h-3M97.4 1301.3h-5M97.4 1296.1h-3M97.4 1291.8h-3M97.4 1288h-3M97.4 1284.6h-3M97.4 1281.6h-7M97.4 1261.9h-3M97.4 1250.4h-3M97.4 1242.2h-3M97.4 1235.9h-5M97.4 1230.7h-3M97.4 1226.3h-3M97.4 1222.5h-3M97.4 1219.2h-3M97.4 1216.2h-7" fill="none" stroke="#333" stroke-width="1.3"/>
<text x="88.14" y="1502.75" font-size="11.01">10</text>
<text x="100.78" y="1496.65" font-size="9.72">0</text>
<text x="154.75" y="1502.75" font-size="11.01">10</text>
<text x="167.06" y="1496.65" font-size="9.72">1</text>
<text x="221.06" y="1502.75" font-size="11.01">10</text>
<text x="233.61" y="1496.65" font-size="9.72">2</text>
<text x="287.36" y="1502.75" font-size="11.01">10</text>
<text x="300.01" y="1496.65" font-size="9.72">3</text>
<text x="353.61" y="1502.75" font-size="11.01">10</text>
<text x="366.46" y="1496.65" font-size="9.72">4</text>
<text x="69.12" y="1482.63" font-size="11.01">10</text>
<text x="81.77" y="1476.52" font-size="9.72">0</text>
<text x="69.56" y="1417.21" font-size="11.01">10</text>
<text x="81.87" y="1411.10" font-size="9.72">1</text>
<text x="69.36" y="1351.78" font-size="11.01">10</text>
<text x="81.91" y="1345.67" font-size="9.72">2</text>
<text x="69.17" y="1286.36" font-size="11.01">10</text>
<text x="81.82" y="1280.25" font-size="9.72">3</text>
<text x="68.88" y="1220.93" font-size="11.01">10</text>
<text x="81.72" y="1214.82" font-size="9.72">4</text>
<text x="0" y="0" font-size="17.82" transform="translate(57.42 1405.51) rotate(-90) scale(1.016 1)">CD11b-BV510</text>
<text x="0" y="0" font-size="18.37" transform="translate(184.15 1524.82) scale(1.122 1)">F4/80-APC</text>
<g filter="url(#d7)"><ellipse cx="541" cy="1313.8" rx="98" ry="55" fill="url(#g15)"/><ellipse cx="505" cy="1327.8" rx="45" ry="32" fill="url(#g16)"/><ellipse cx="570" cy="1315.8" rx="45" ry="38" fill="url(#g26)"/><ellipse cx="530" cy="1410.8" rx="55" ry="90" fill="url(#g17)" transform="rotate(16 530 1410.8)"/><ellipse cx="542" cy="1355.8" rx="40" ry="30" fill="url(#g18)"/><ellipse cx="525" cy="1385.8" rx="130" ry="110" fill="url(#g3)"/><rect x="432" y="1474" width="260" height="1.5" opacity=".35"/></g>
<rect x="466" y="1242.5" width="165.4" height="103" fill="none" stroke="#555" stroke-width="1.2"/>
<rect x="474.3" y="1259.8" width="39.7" height="18.4" fill="#fff"/>
<text x="0" y="0" font-size="17.46" transform="translate(475.86 1275.03) scale(1.071 1)">24.3</text>
<rect x="430" y="1215.8" width="266.5" height="261.3" fill="none" stroke="#555" stroke-width="1.5"/>
<line x1="430" y1="1477.1" x2="696.5" y2="1477.1" stroke="#333" stroke-width="2"/>
<line x1="430" y1="1215.8" x2="430" y2="1477.1" stroke="#444" stroke-width="1.6"/>
<path d="M430 1477.1v7.5M450.1 1477.1v3.5M461.8 1477.1v3.5M470.1 1477.1v3.5M476.6 1477.1v5.5M481.8 1477.1v3.5M486.3 1477.1v3.5M490.2 1477.1v3.5M493.6 1477.1v3.5M496.6 1477.1v7.5M516.7 1477.1v3.5M528.4 1477.1v3.5M536.7 1477.1v3.5M543.2 1477.1v5.5M548.5 1477.1v3.5M552.9 1477.1v3.5M556.8 1477.1v3.5M560.2 1477.1v3.5M563.2 1477.1v7.5M583.3 1477.1v3.5M595 1477.1v3.5M603.4 1477.1v3.5M609.8 1477.1v5.5M615.1 1477.1v3.5M619.6 1477.1v3.5M623.4 1477.1v3.5M626.8 1477.1v3.5M629.9 1477.1v7.5M649.9 1477.1v3.5M661.7 1477.1v3.5M670 1477.1v3.5M676.4 1477.1v5.5M681.7 1477.1v3.5M686.2 1477.1v3.5M690 1477.1v3.5M693.5 1477.1v3.5M696.5 1477.1v7.5M430 1477.1h-7M430 1457.4h-3M430 1445.9h-3M430 1437.8h-3M430 1431.4h-5M430 1426.3h-3M430 1421.9h-3M430 1418.1h-3M430 1414.8h-3M430 1411.8h-7M430 1392.1h-3M430 1380.6h-3M430 1372.4h-3M430 1366.1h-5M430 1360.9h-3M430 1356.6h-3M430 1352.8h-3M430 1349.4h-3M430 1346.4h-7M430 1326.8h-3M430 1315.3h-3M430 1307.1h-3M430 1300.8h-5M430 1295.6h-3M430 1291.2h-3M430 1287.5h-3M430 1284.1h-3M430 1281.1h-7M430 1261.5h-3M430 1250h-3M430 1241.8h-3M430 1235.5h-5M430 1230.3h-3M430 1225.9h-3M430 1222.1h-3M430 1218.8h-3M430 1215.8h-7" fill="none" stroke="#333" stroke-width="1.3"/>
<text x="420.74" y="1501.95" font-size="11.01">10</text>
<text x="433.38" y="1495.85" font-size="9.72">0</text>
<text x="487.58" y="1501.95" font-size="11.01">10</text>
<text x="499.89" y="1495.85" font-size="9.72">1</text>
<text x="554.11" y="1501.95" font-size="11.01">10</text>
<text x="566.66" y="1495.85" font-size="9.72">2</text>
<text x="620.64" y="1501.95" font-size="11.01">10</text>
<text x="633.28" y="1495.85" font-size="9.72">3</text>
<text x="687.11" y="1501.95" font-size="11.01">10</text>
<text x="699.96" y="1495.85" font-size="9.72">4</text>
<text x="401.72" y="1481.83" font-size="11.01">10</text>
<text x="414.37" y="1475.72" font-size="9.72">0</text>
<text x="402.16" y="1416.50" font-size="11.01">10</text>
<text x="414.47" y="1410.40" font-size="9.72">1</text>
<text x="401.96" y="1351.18" font-size="11.01">10</text>
<text x="414.51" y="1345.07" font-size="9.72">2</text>
<text x="401.77" y="1285.86" font-size="11.01">10</text>
<text x="414.42" y="1279.75" font-size="9.72">3</text>
<text x="401.48" y="1220.53" font-size="11.01">10</text>
<text x="414.32" y="1214.42" font-size="9.72">4</text>
<text x="0" y="0" font-size="19.18" transform="translate(392.31 1373.57) rotate(-90) scale(0.906 1)">CM-DiI</text>
<text x="0" y="0" font-size="18.61" transform="translate(505.55 1524.29) scale(1.107 1)">Ly6G-PE/Cy7</text>
<g filter="url(#d8)"><g clip-path="url(#cp6)"><ellipse cx="881.4" cy="1323.8" rx="98" ry="65" fill="url(#g20)"/><ellipse cx="843.4" cy="1325.8" rx="48" ry="35" fill="url(#g16)"/><ellipse cx="908.4" cy="1315.8" rx="50" ry="42" fill="url(#g21)"/></g></g>
<rect x="873.5" y="1243.4" width="92.7" height="102.1" fill="none" stroke="#555" stroke-width="1.2"/>
<rect x="931.9" y="1266.9" width="41.6" height="18.4" fill="#fff"/>
<text x="0" y="0" font-size="17.46" transform="translate(934.01 1282.13) scale(1.112 1)">48.6</text>
<rect x="763.4" y="1215.8" width="267" height="261.2" fill="none" stroke="#555" stroke-width="1.5"/>
<line x1="763.4" y1="1477" x2="1030.4" y2="1477" stroke="#333" stroke-width="2"/>
<line x1="763.4" y1="1215.8" x2="763.4" y2="1477" stroke="#444" stroke-width="1.6"/>
<path d="M763.4 1477v7.5M783.5 1477v3.5M795.2 1477v3.5M803.6 1477v3.5M810.1 1477v5.5M815.3 1477v3.5M819.8 1477v3.5M823.7 1477v3.5M827.1 1477v3.5M830.1 1477v7.5M850.2 1477v3.5M862 1477v3.5M870.3 1477v3.5M876.8 1477v5.5M882.1 1477v3.5M886.6 1477v3.5M890.4 1477v3.5M893.8 1477v3.5M896.9 1477v7.5M917 1477v3.5M928.7 1477v3.5M937.1 1477v3.5M943.6 1477v5.5M948.8 1477v3.5M953.3 1477v3.5M957.2 1477v3.5M960.6 1477v3.5M963.7 1477v7.5M983.7 1477v3.5M995.5 1477v3.5M1003.8 1477v3.5M1010.3 1477v5.5M1015.6 1477v3.5M1020.1 1477v3.5M1023.9 1477v3.5M1027.3 1477v3.5M1030.4 1477v7.5M763.4 1477h-7M763.4 1457.3h-3M763.4 1445.8h-3M763.4 1437.7h-3M763.4 1431.4h-5M763.4 1426.2h-3M763.4 1421.8h-3M763.4 1418h-3M763.4 1414.7h-3M763.4 1411.7h-7M763.4 1392h-3M763.4 1380.5h-3M763.4 1372.4h-3M763.4 1366.1h-5M763.4 1360.9h-3M763.4 1356.5h-3M763.4 1352.7h-3M763.4 1349.4h-3M763.4 1346.4h-7M763.4 1326.7h-3M763.4 1315.2h-3M763.4 1307.1h-3M763.4 1300.8h-5M763.4 1295.6h-3M763.4 1291.2h-3M763.4 1287.4h-3M763.4 1284.1h-3M763.4 1281.1h-7M763.4 1261.4h-3M763.4 1249.9h-3M763.4 1241.8h-3M763.4 1235.5h-5M763.4 1230.3h-3M763.4 1225.9h-3M763.4 1222.1h-3M763.4 1218.8h-3M763.4 1215.8h-7" fill="none" stroke="#333" stroke-width="1.3"/>
<text x="754.14" y="1501.85" font-size="11.01">10</text>
<text x="766.78" y="1495.75" font-size="9.72">0</text>
<text x="821.10" y="1501.85" font-size="11.01">10</text>
<text x="833.41" y="1495.75" font-size="9.72">1</text>
<text x="887.76" y="1501.85" font-size="11.01">10</text>
<text x="900.31" y="1495.75" font-size="9.72">2</text>
<text x="954.41" y="1501.85" font-size="11.01">10</text>
<text x="967.06" y="1495.75" font-size="9.72">3</text>
<text x="1021.01" y="1501.85" font-size="11.01">10</text>
<text x="1033.86" y="1495.75" font-size="9.72">4</text>
<text x="735.12" y="1481.73" font-size="11.01">10</text>
<text x="747.77" y="1475.62" font-size="9.72">0</text>
<text x="735.56" y="1416.43" font-size="11.01">10</text>
<text x="747.87" y="1410.32" font-size="9.72">1</text>
<text x="735.36" y="1351.13" font-size="11.01">10</text>
<text x="747.91" y="1345.02" font-size="9.72">2</text>
<text x="735.17" y="1285.83" font-size="11.01">10</text>
<text x="747.82" y="1279.72" font-size="9.72">3</text>
<text x="734.88" y="1220.53" font-size="11.01">10</text>
<text x="747.72" y="1214.42" font-size="9.72">4</text>
<text x="0" y="0" font-size="19.18" transform="translate(725.81 1373.57) rotate(-90) scale(0.906 1)">CM-DiI</text>
<text x="0" y="0" font-size="18.61" transform="translate(839.04 1524.29) scale(1.115 1)">Ly6G-PE/Cy7</text>
<path d="M1139.4 1402.2V978.8" fill="none" stroke="#000" stroke-width="2.3"/>
<line x1="1132.4" y1="1402.2" x2="1139.4" y2="1402.2" stroke="#000" stroke-width="2.3"/>
<text x="0" y="0" font-size="26.34" transform="translate(1120.35 1413.34) scale(0.770 1)">0</text>
<line x1="1132.4" y1="1296.3" x2="1139.4" y2="1296.3" stroke="#000" stroke-width="2.3"/>
<text x="0" y="0" font-size="26.34" transform="translate(1109.10 1307.49) scale(0.770 1)">20</text>
<line x1="1132.4" y1="1190.5" x2="1139.4" y2="1190.5" stroke="#000" stroke-width="2.3"/>
<text x="0" y="0" font-size="26.34" transform="translate(1109.10 1201.64) scale(0.770 1)">40</text>
<line x1="1132.4" y1="1084.7" x2="1139.4" y2="1084.7" stroke="#000" stroke-width="2.3"/>
<text x="0" y="0" font-size="26.34" transform="translate(1109.10 1095.79) scale(0.770 1)">60</text>
<line x1="1132.4" y1="978.8" x2="1139.4" y2="978.8" stroke="#000" stroke-width="2.3"/>
<text x="0" y="0" font-size="26.34" transform="translate(1109.10 989.94) scale(0.770 1)">80</text>
<line x1="1133.2" y1="1402.2" x2="1441.2" y2="1402.2" stroke="#000" stroke-width="2.5"/>
<line x1="1214" y1="1402.2" x2="1214" y2="1414.8" stroke="#000" stroke-width="2.5"/>
<line x1="1365" y1="1402.2" x2="1365" y2="1414.8" stroke="#000" stroke-width="2.5"/>
<rect x="1165.5" y="1086.2" width="98.2" height="316.1" fill="#fff" stroke="#000" stroke-width="2.3"/>
<rect x="1313.9" y="1155.3" width="102" height="246.9" fill="#000"/>
<path d="M1214.5 1085V1067.5M1188.3 1067.5H1240.7" fill="none" stroke="#000" stroke-width="2.4"/>
<path d="M1364.8 1155.3V1145.1M1338.6 1145.1H1391" fill="none" stroke="#000" stroke-width="2.4"/>
<path d="M1366.4 1123.5l0.00 -5.27M1366.4 1123.5l-6.29 -1.44M1366.4 1123.5l6.29 -1.44M1366.4 1123.5l-3.65 4.50M1366.4 1123.5l3.65 4.50" stroke="#000" stroke-width="2.46" stroke-linecap="round" fill="none"/>
<text x="0" y="0" font-size="23.81" letter-spacing="1.56" transform="translate(1175.12 1439.26) scale(0.880 1)">Medium</text>
<text x="0" y="0" font-size="25.36" letter-spacing="0.93" transform="translate(1349.70 1439.50) scale(0.880 1)">AA</text>
<text x="0" y="0" font-size="22.99" transform="translate(1069.87 1339.28) rotate(-90) scale(1.471 1)">% of phagocytosed</text>
<text x="0" y="0" font-size="21.93" transform="translate(1098.90 1347.63) rotate(-90) scale(1.517 1)">apoptotic neutrophils</text>
<text x="0" y="0" font-size="34.93" font-weight="bold" transform="translate(-0.17 1608.90) scale(0.954 1)">D</text>
<text x="0" y="0" font-size="22.45" font-weight="bold" transform="translate(23.18 1810.05) rotate(-90) scale(0.995 1)">Medium</text>
<text x="0" y="0" font-size="23.91" font-weight="bold" transform="translate(23.40 2127.89) rotate(-90) scale(0.993 1)">AA</text>
<g filter="url(#d9)"><ellipse cx="288.1" cy="1702.1" rx="120" ry="100" fill="url(#g5)" transform="rotate(-40 288.1 1702.1)"/><ellipse cx="233.1" cy="1782.1" rx="110" ry="70" fill="url(#g1)" transform="rotate(-35 233.1 1782.1)"/><ellipse cx="193.1" cy="1822.1" rx="95" ry="58" fill="url(#g27)" transform="rotate(-38 193.1 1822.1)"/><ellipse cx="150.1" cy="1860.1" rx="65" ry="30" fill="url(#g28)" transform="rotate(-40 150.1 1860.1)"/><ellipse cx="117.1" cy="1894.1" rx="20" ry="13" fill="url(#g29)" transform="rotate(-20 117.1 1894.1)"/><ellipse cx="130.1" cy="1884.1" rx="38" ry="22" fill="url(#g30)" transform="rotate(-30 130.1 1884.1)"/></g>
<path d="M129.5 1630.1 L363.1 1634.5 L366.4 1870.6 L143.3 1901.4 L114.6 1870.6Z" fill="none" stroke="#555" stroke-width="1.2"/>
<rect x="227.5" y="1760" width="25.7" height="18.5" fill="#fff"/>
<text x="0" y="0" font-size="17.61" transform="translate(229.08 1775.32) scale(1.158 1)">87</text>
<rect x="98.1" y="1622.1" width="273.2" height="282.1" fill="none" stroke="#555" stroke-width="1.5"/>
<line x1="98.1" y1="1904.2" x2="371.3" y2="1904.2" stroke="#333" stroke-width="2"/>
<line x1="98.1" y1="1622.1" x2="98.1" y2="1904.2" stroke="#444" stroke-width="1.6"/>
<path d="M98.1 1904.2v7M151.3 1904.2v7M204.5 1904.2v7M257.8 1904.2v7M311 1904.2v7M364.2 1904.2v7M111.4 1904.2v3.5M124.7 1904.2v3.5M138 1904.2v3.5M164.6 1904.2v3.5M177.9 1904.2v3.5M191.2 1904.2v3.5M217.8 1904.2v3.5M231.2 1904.2v3.5M244.5 1904.2v3.5M271.1 1904.2v3.5M284.4 1904.2v3.5M297.7 1904.2v3.5M324.3 1904.2v3.5M337.6 1904.2v3.5M350.9 1904.2v3.5M98.1 1904.2h-7M98.1 1849.3h-7M98.1 1794.3h-7M98.1 1739.4h-7M98.1 1684.4h-7M98.1 1629.5h-7M98.1 1890.5h-3.5M98.1 1876.7h-3.5M98.1 1863h-3.5M98.1 1835.5h-3.5M98.1 1821.8h-3.5M98.1 1808.1h-3.5M98.1 1780.6h-3.5M98.1 1766.9h-3.5M98.1 1753.1h-3.5M98.1 1725.6h-3.5M98.1 1711.9h-3.5M98.1 1698.2h-3.5M98.1 1670.7h-3.5M98.1 1657h-3.5M98.1 1643.2h-3.5" fill="none" stroke="#333" stroke-width="1.3"/>
<text x="0" y="0" font-size="11.69" transform="translate(94.56 1931.38) scale(1.080 1)">0</text>
<text x="0" y="0" font-size="11.69" transform="translate(140.71 1931.38) scale(1.080 1)">200</text>
<text x="0" y="0" font-size="11.69" transform="translate(194.12 1931.38) scale(1.080 1)">400</text>
<text x="0" y="0" font-size="11.69" transform="translate(247.15 1931.38) scale(1.080 1)">600</text>
<text x="0" y="0" font-size="11.69" transform="translate(300.41 1931.38) scale(1.080 1)">800</text>
<text x="0" y="0" font-size="11.69" transform="translate(349.90 1931.38) scale(1.080 1)">1000</text>
<text x="0" y="0" font-size="11.69" transform="translate(79.73 1909.58) scale(1.080 1)">0</text>
<text x="0" y="0" font-size="11.69" transform="translate(65.72 1854.64) scale(1.080 1)">200</text>
<text x="0" y="0" font-size="11.69" transform="translate(65.72 1799.70) scale(1.080 1)">400</text>
<text x="0" y="0" font-size="11.69" transform="translate(65.72 1744.76) scale(1.080 1)">600</text>
<text x="0" y="0" font-size="11.69" transform="translate(65.72 1689.82) scale(1.080 1)">800</text>
<text x="0" y="0" font-size="11.69" transform="translate(58.65 1634.88) scale(1.080 1)">1000</text>
<text x="0" y="0" font-size="21.41" transform="translate(50.79 1792.89) rotate(-90) scale(0.919 1)">SSC-A</text>
<text x="0" y="0" font-size="18.45" transform="translate(205.09 1950.32) scale(1.023 1)">FSC-A</text>
<g filter="url(#d10)"><ellipse cx="288.1" cy="2059.5" rx="120" ry="100" fill="url(#g3)" transform="rotate(-40 288.1 2059.5)"/><ellipse cx="238.1" cy="2119.5" rx="110" ry="75" fill="url(#g21)" transform="rotate(-40 238.1 2119.5)"/><ellipse cx="203.1" cy="2164.5" rx="95" ry="70" fill="url(#g31)" transform="rotate(-45 203.1 2164.5)"/><ellipse cx="178.1" cy="2197.5" rx="62" ry="52" fill="url(#g28)" transform="rotate(-45 178.1 2197.5)"/><ellipse cx="117.1" cy="2237.5" rx="20" ry="15" fill="url(#g29)" transform="rotate(-30 117.1 2237.5)"/><ellipse cx="132.1" cy="2227.5" rx="42" ry="26" fill="url(#g30)" transform="rotate(-30 132.1 2227.5)"/></g>
<path d="M129.5 1977.7 L363.1 1982.1 L366.4 2218.8 L143.3 2249.1 L115.7 2218.2Z" fill="none" stroke="#555" stroke-width="1.2"/>
<rect x="220.1" y="2107" width="41.4" height="18.4" fill="#fff"/>
<text x="0" y="0" font-size="17.46" transform="translate(221.72 2122.23) scale(1.121 1)">80.6</text>
<rect x="98.1" y="1969.5" width="273.2" height="282.3" fill="none" stroke="#555" stroke-width="1.5"/>
<line x1="98.1" y1="2251.8" x2="371.3" y2="2251.8" stroke="#333" stroke-width="2"/>
<line x1="98.1" y1="1969.5" x2="98.1" y2="2251.8" stroke="#444" stroke-width="1.6"/>
<path d="M98.1 2251.8v7M151.3 2251.8v7M204.5 2251.8v7M257.8 2251.8v7M311 2251.8v7M364.2 2251.8v7M111.4 2251.8v3.5M124.7 2251.8v3.5M138 2251.8v3.5M164.6 2251.8v3.5M177.9 2251.8v3.5M191.2 2251.8v3.5M217.8 2251.8v3.5M231.2 2251.8v3.5M244.5 2251.8v3.5M271.1 2251.8v3.5M284.4 2251.8v3.5M297.7 2251.8v3.5M324.3 2251.8v3.5M337.6 2251.8v3.5M350.9 2251.8v3.5M98.1 2251.8h-7M98.1 2196.9h-7M98.1 2141.9h-7M98.1 2087h-7M98.1 2032h-7M98.1 1977.1h-7M98.1 2238.1h-3.5M98.1 2224.3h-3.5M98.1 2210.6h-3.5M98.1 2183.1h-3.5M98.1 2169.4h-3.5M98.1 2155.7h-3.5M98.1 2128.2h-3.5M98.1 2114.5h-3.5M98.1 2100.7h-3.5M98.1 2073.2h-3.5M98.1 2059.5h-3.5M98.1 2045.8h-3.5M98.1 2018.3h-3.5M98.1 2004.6h-3.5M98.1 1990.8h-3.5" fill="none" stroke="#333" stroke-width="1.3"/>
<text x="0" y="0" font-size="11.69" transform="translate(94.56 2278.98) scale(1.080 1)">0</text>
<text x="0" y="0" font-size="11.69" transform="translate(140.71 2278.98) scale(1.080 1)">200</text>
<text x="0" y="0" font-size="11.69" transform="translate(194.12 2278.98) scale(1.080 1)">400</text>
<text x="0" y="0" font-size="11.69" transform="translate(247.15 2278.98) scale(1.080 1)">600</text>
<text x="0" y="0" font-size="11.69" transform="translate(300.41 2278.98) scale(1.080 1)">800</text>
<text x="0" y="0" font-size="11.69" transform="translate(349.90 2278.98) scale(1.080 1)">1000</text>
<text x="0" y="0" font-size="11.69" transform="translate(79.73 2257.18) scale(1.080 1)">0</text>
<text x="0" y="0" font-size="11.69" transform="translate(65.72 2202.24) scale(1.080 1)">200</text>
<text x="0" y="0" font-size="11.69" transform="translate(65.72 2147.30) scale(1.080 1)">400</text>
<text x="0" y="0" font-size="11.69" transform="translate(65.72 2092.36) scale(1.080 1)">600</text>
<text x="0" y="0" font-size="11.69" transform="translate(65.72 2037.42) scale(1.080 1)">800</text>
<text x="0" y="0" font-size="11.69" transform="translate(58.65 1982.48) scale(1.080 1)">1000</text>
<text x="0" y="0" font-size="21.41" transform="translate(50.79 2139.16) rotate(-90) scale(0.897 1)">SSC-A</text>
<text x="0" y="0" font-size="17.46" transform="translate(205.09 2297.93) scale(1.080 1)">FSC-A</text>
<g filter="url(#d11)"><ellipse cx="520.1" cy="1830.8" rx="110" ry="70" fill="url(#g32)" transform="rotate(-35 520.1 1830.8)"/><ellipse cx="600.1" cy="1763.8" rx="125" ry="72" fill="url(#g33)" transform="rotate(-40 600.1 1763.8)"/><ellipse cx="604.1" cy="1753.8" rx="88" ry="45" fill="url(#g34)" transform="rotate(-42 604.1 1753.8)"/><rect x="452" y="1903" width="150" height="1.5" opacity=".25"/></g>
<rect x="555.9" y="1696.5" width="106.7" height="102" fill="none" stroke="#555" stroke-width="1.2"/>
<rect x="548.1" y="1712.5" width="41.1" height="18.4" fill="#fff"/>
<text x="0" y="0" font-size="17.46" transform="translate(549.73 1727.73) scale(1.111 1)">87.8</text>
<rect x="450.1" y="1625.8" width="271.4" height="280.8" fill="none" stroke="#555" stroke-width="1.5"/>
<line x1="450.1" y1="1906.6" x2="721.5" y2="1906.6" stroke="#333" stroke-width="2"/>
<line x1="450.1" y1="1625.8" x2="450.1" y2="1906.6" stroke="#444" stroke-width="1.6"/>
<path d="M450.1 1906.6v7.5M470.5 1906.6v3.5M482.5 1906.6v3.5M490.9 1906.6v3.5M497.5 1906.6v5.5M502.9 1906.6v3.5M507.4 1906.6v3.5M511.4 1906.6v3.5M514.8 1906.6v3.5M518 1906.6v7.5M538.4 1906.6v3.5M550.3 1906.6v3.5M558.8 1906.6v3.5M565.4 1906.6v5.5M570.7 1906.6v3.5M575.3 1906.6v3.5M579.2 1906.6v3.5M582.7 1906.6v3.5M585.8 1906.6v7.5M606.2 1906.6v3.5M618.2 1906.6v3.5M626.6 1906.6v3.5M633.2 1906.6v5.5M638.6 1906.6v3.5M643.1 1906.6v3.5M647.1 1906.6v3.5M650.5 1906.6v3.5M653.6 1906.6v7.5M674.1 1906.6v3.5M686 1906.6v3.5M694.5 1906.6v3.5M701.1 1906.6v5.5M706.4 1906.6v3.5M711 1906.6v3.5M714.9 1906.6v3.5M718.4 1906.6v3.5M721.5 1906.6v7.5M450.1 1906.6h-7M450.1 1885.5h-3M450.1 1873.1h-3M450.1 1864.3h-3M450.1 1857.5h-5M450.1 1852h-3M450.1 1847.3h-3M450.1 1843.2h-3M450.1 1839.6h-3M450.1 1836.4h-7M450.1 1815.3h-3M450.1 1802.9h-3M450.1 1794.1h-3M450.1 1787.3h-5M450.1 1781.8h-3M450.1 1777.1h-3M450.1 1773h-3M450.1 1769.4h-3M450.1 1766.2h-7M450.1 1745.1h-3M450.1 1732.7h-3M450.1 1723.9h-3M450.1 1717.1h-5M450.1 1711.6h-3M450.1 1706.9h-3M450.1 1702.8h-3M450.1 1699.2h-3M450.1 1696h-7M450.1 1674.9h-3M450.1 1662.5h-3M450.1 1653.7h-3M450.1 1646.9h-5M450.1 1641.4h-3M450.1 1636.7h-3M450.1 1632.6h-3M450.1 1629h-3M450.1 1625.8h-7" fill="none" stroke="#333" stroke-width="1.3"/>
<text x="440.08" y="1933.48" font-size="11.90">10</text>
<text x="453.76" y="1926.87" font-size="10.51">0</text>
<text x="508.17" y="1933.48" font-size="11.90">10</text>
<text x="521.48" y="1926.87" font-size="10.51">1</text>
<text x="575.91" y="1933.48" font-size="11.90">10</text>
<text x="589.49" y="1926.87" font-size="10.51">2</text>
<text x="643.66" y="1933.48" font-size="11.90">10</text>
<text x="657.34" y="1926.87" font-size="10.51">3</text>
<text x="711.35" y="1933.48" font-size="11.90">10</text>
<text x="725.24" y="1926.87" font-size="10.51">4</text>
<text x="419.52" y="1911.71" font-size="11.90">10</text>
<text x="433.20" y="1905.11" font-size="10.51">0</text>
<text x="419.99" y="1841.51" font-size="11.90">10</text>
<text x="433.30" y="1834.91" font-size="10.51">1</text>
<text x="419.78" y="1771.31" font-size="11.90">10</text>
<text x="433.35" y="1764.71" font-size="10.51">2</text>
<text x="419.57" y="1701.12" font-size="11.90">10</text>
<text x="433.25" y="1694.51" font-size="10.51">3</text>
<text x="419.26" y="1630.91" font-size="11.90">10</text>
<text x="433.14" y="1624.31" font-size="10.51">4</text>
<text x="0" y="0" font-size="19.59" transform="translate(411.20 1822.98) rotate(-90) scale(0.996 1)">CD11b-V450</text>
<text x="0" y="0" font-size="19.18" transform="translate(538.08 1951.41) scale(0.989 1)">F4/80-APC</text>
<g filter="url(#d12)"><ellipse cx="515.1" cy="2150.1" rx="110" ry="80" fill="url(#g32)" transform="rotate(-35 515.1 2150.1)"/><ellipse cx="622.1" cy="2075.1" rx="90" ry="68" fill="url(#g35)" transform="rotate(-30 622.1 2075.1)"/><ellipse cx="575.1" cy="2115.1" rx="55" ry="35" fill="url(#g18)" transform="rotate(-35 575.1 2115.1)"/><ellipse cx="633.1" cy="2066.1" rx="65" ry="48" fill="url(#g28)" transform="rotate(-30 633.1 2066.1)"/><rect x="452" y="2248" width="150" height="1.5" opacity=".25"/><rect x="452" y="2150" width="1.5" height="98" opacity=".3"/></g>
<rect x="572.4" y="2034.2" width="106.7" height="102.1" fill="none" stroke="#555" stroke-width="1.2"/>
<rect x="569.9" y="2046.3" width="41.6" height="18.4" fill="#fff"/>
<text x="0" y="0" font-size="17.46" transform="translate(571.51 2061.53) scale(1.127 1)">88.3</text>
<rect x="450.1" y="1970.1" width="271.9" height="281.3" fill="none" stroke="#555" stroke-width="1.5"/>
<line x1="450.1" y1="2251.4" x2="722" y2="2251.4" stroke="#333" stroke-width="2"/>
<line x1="450.1" y1="1970.1" x2="450.1" y2="2251.4" stroke="#444" stroke-width="1.6"/>
<path d="M450.1 2251.4v7.5M470.6 2251.4v3.5M482.5 2251.4v3.5M491 2251.4v3.5M497.6 2251.4v5.5M503 2251.4v3.5M507.5 2251.4v3.5M511.5 2251.4v3.5M515 2251.4v3.5M518.1 2251.4v7.5M538.5 2251.4v3.5M550.5 2251.4v3.5M559 2251.4v3.5M565.6 2251.4v5.5M571 2251.4v3.5M575.5 2251.4v3.5M579.5 2251.4v3.5M582.9 2251.4v3.5M586 2251.4v7.5M606.5 2251.4v3.5M618.5 2251.4v3.5M627 2251.4v3.5M633.6 2251.4v5.5M638.9 2251.4v3.5M643.5 2251.4v3.5M647.4 2251.4v3.5M650.9 2251.4v3.5M654 2251.4v7.5M674.5 2251.4v3.5M686.5 2251.4v3.5M695 2251.4v3.5M701.5 2251.4v5.5M706.9 2251.4v3.5M711.5 2251.4v3.5M715.4 2251.4v3.5M718.9 2251.4v3.5M722 2251.4v7.5M450.1 2251.4h-7M450.1 2230.2h-3M450.1 2217.8h-3M450.1 2209.1h-3M450.1 2202.2h-5M450.1 2196.7h-3M450.1 2192h-3M450.1 2187.9h-3M450.1 2184.3h-3M450.1 2181.1h-7M450.1 2159.9h-3M450.1 2147.5h-3M450.1 2138.7h-3M450.1 2131.9h-5M450.1 2126.4h-3M450.1 2121.6h-3M450.1 2117.6h-3M450.1 2114h-3M450.1 2110.8h-7M450.1 2089.6h-3M450.1 2077.2h-3M450.1 2068.4h-3M450.1 2061.6h-5M450.1 2056h-3M450.1 2051.3h-3M450.1 2047.2h-3M450.1 2043.6h-3M450.1 2040.4h-7M450.1 2019.3h-3M450.1 2006.9h-3M450.1 1998.1h-3M450.1 1991.3h-5M450.1 1985.7h-3M450.1 1981h-3M450.1 1976.9h-3M450.1 1973.3h-3M450.1 1970.1h-7" fill="none" stroke="#333" stroke-width="1.3"/>
<text x="440.08" y="2278.28" font-size="11.90">10</text>
<text x="453.76" y="2271.67" font-size="10.51">0</text>
<text x="508.29" y="2278.28" font-size="11.90">10</text>
<text x="521.60" y="2271.67" font-size="10.51">1</text>
<text x="576.16" y="2278.28" font-size="11.90">10</text>
<text x="589.74" y="2271.67" font-size="10.51">2</text>
<text x="644.03" y="2278.28" font-size="11.90">10</text>
<text x="657.71" y="2271.67" font-size="10.51">3</text>
<text x="711.85" y="2278.28" font-size="11.90">10</text>
<text x="725.74" y="2271.67" font-size="10.51">4</text>
<text x="419.52" y="2256.51" font-size="11.90">10</text>
<text x="433.20" y="2249.91" font-size="10.51">0</text>
<text x="419.99" y="2186.19" font-size="11.90">10</text>
<text x="433.30" y="2179.59" font-size="10.51">1</text>
<text x="419.78" y="2115.86" font-size="11.90">10</text>
<text x="433.35" y="2109.26" font-size="10.51">2</text>
<text x="419.57" y="2045.54" font-size="11.90">10</text>
<text x="433.25" y="2038.94" font-size="10.51">3</text>
<text x="419.26" y="1975.21" font-size="11.90">10</text>
<text x="433.14" y="1968.61" font-size="10.51">4</text>
<text x="0" y="0" font-size="19.59" transform="translate(411.20 2167.38) rotate(-90) scale(0.997 1)">CD11b-V450</text>
<text x="0" y="0" font-size="19.59" transform="translate(538.06 2297.00) scale(0.983 1)">F4/80-APC</text>
<path d="M831.6 1907.5V1625" fill="none" stroke="#000" stroke-width="2.2"/>
<line x1="822.9" y1="1907.5" x2="831.6" y2="1907.5" stroke="#000" stroke-width="2.2"/>
<text x="0" y="0" font-size="21.83" transform="translate(808.82 1917.28) scale(1.170 1)">0</text>
<line x1="822.9" y1="1813.3" x2="831.6" y2="1813.3" stroke="#000" stroke-width="2.2"/>
<text x="0" y="0" font-size="21.83" transform="translate(780.47 1823.12) scale(1.170 1)">200</text>
<line x1="822.9" y1="1719.2" x2="831.6" y2="1719.2" stroke="#000" stroke-width="2.2"/>
<text x="0" y="0" font-size="21.83" transform="translate(780.47 1728.95) scale(1.170 1)">400</text>
<line x1="822.9" y1="1625" x2="831.6" y2="1625" stroke="#000" stroke-width="2.2"/>
<text x="0" y="0" font-size="21.83" transform="translate(780.47 1634.78) scale(1.170 1)">600</text>
<line x1="821.6" y1="1907.5" x2="973.1" y2="1907.5" stroke="#000" stroke-width="2.4"/>
<line x1="901.8" y1="1907.5" x2="901.8" y2="1916.8" stroke="#000" stroke-width="2.4"/>
<rect x="844.4" y="1814.9" width="45" height="92.6" fill="#fff" stroke="#000" stroke-width="2.2"/>
<rect x="912.4" y="1689.2" width="48.8" height="218.3" fill="#000"/>
<path d="M867.1 1813.8V1800.4M854.7 1800.4H879.5" fill="none" stroke="#000" stroke-width="2.3"/>
<path d="M936.9 1689.2V1678.4M924 1678.4H949.8" fill="none" stroke="#000" stroke-width="2.3"/>
<line x1="875.9" y1="1668.3" x2="938.8" y2="1668.3" stroke="#000" stroke-width="2.5"/>
<path d="M887 1652l0.00 -5.64M887 1652l-6.73 -1.55M887 1652l6.73 -1.55M887 1652l-3.91 4.82M887 1652l3.91 4.82" stroke="#000" stroke-width="2.64" stroke-linecap="round" fill="none"/>
<path d="M907.8 1652l0.00 -5.64M907.8 1652l-6.73 -1.55M907.8 1652l6.73 -1.55M907.8 1652l-3.91 4.82M907.8 1652l3.91 4.82" stroke="#000" stroke-width="2.64" stroke-linecap="round" fill="none"/>
<path d="M928.6 1652l0.00 -5.64M928.6 1652l-6.73 -1.55M928.6 1652l6.73 -1.55M928.6 1652l-3.91 4.82M928.6 1652l3.91 4.82" stroke="#000" stroke-width="2.64" stroke-linecap="round" fill="none"/>
<text x="0" y="0" font-size="22.59" letter-spacing="2.37" transform="translate(867.29 1944.77) scale(1.000 1)">F4/80</text>
<text x="0" y="0" font-size="22.32" transform="translate(774.40 1785.89) rotate(-90) scale(0.945 1)">MFI</text>
<rect x="994" y="1626.7" width="33.3" height="16.3" fill="#fff" stroke="#000" stroke-width="1.8"/>
<rect x="993.1" y="1658.4" width="35.1" height="17.8" fill="#000"/>
<text x="0" y="0" font-size="22.04" letter-spacing="2.91" transform="translate(1045.05 1642.58) scale(1.050 1)">Medium</text>
<text x="0" y="0" font-size="22.59" letter-spacing="2.43" transform="translate(1045.71 1675.17) scale(1.050 1)">Chronic AA</text>
<path d="M830.2 2254.3V1971" fill="none" stroke="#000" stroke-width="2.2"/>
<line x1="821.5" y1="2254.3" x2="830.2" y2="2254.3" stroke="#000" stroke-width="2.2"/>
<text x="0" y="0" font-size="21.27" transform="translate(805.23 2261.99) scale(1.200 1)">0</text>
<line x1="821.5" y1="2197.6" x2="830.2" y2="2197.6" stroke="#000" stroke-width="2.2"/>
<text x="0" y="0" font-size="21.27" transform="translate(791.06 2205.33) scale(1.200 1)">10</text>
<line x1="821.5" y1="2141" x2="830.2" y2="2141" stroke="#000" stroke-width="2.2"/>
<text x="0" y="0" font-size="21.27" transform="translate(791.06 2148.67) scale(1.200 1)">20</text>
<line x1="821.5" y1="2084.3" x2="830.2" y2="2084.3" stroke="#000" stroke-width="2.2"/>
<text x="0" y="0" font-size="21.27" transform="translate(791.06 2092.01) scale(1.200 1)">30</text>
<line x1="821.5" y1="2027.7" x2="830.2" y2="2027.7" stroke="#000" stroke-width="2.2"/>
<text x="0" y="0" font-size="21.27" transform="translate(791.06 2035.35) scale(1.200 1)">40</text>
<line x1="821.5" y1="1971" x2="830.2" y2="1971" stroke="#000" stroke-width="2.2"/>
<text x="0" y="0" font-size="21.27" transform="translate(791.06 1978.69) scale(1.200 1)">50</text>
<line x1="821.1" y1="2254.3" x2="1403.8" y2="2254.3" stroke="#000" stroke-width="2.4"/>
<line x1="926.5" y1="2254.3" x2="926.5" y2="2263.5" stroke="#000" stroke-width="2.4"/>
<line x1="1117.5" y1="2254.3" x2="1117.5" y2="2263.5" stroke="#000" stroke-width="2.4"/>
<line x1="1307.5" y1="2254.3" x2="1307.5" y2="2263.5" stroke="#000" stroke-width="2.4"/>
<rect x="867.1" y="2139.4" width="46.2" height="114.9" fill="#fff" stroke="#000" stroke-width="2.2"/>
<rect x="937.6" y="2072" width="48.4" height="182.3" fill="#000"/>
<rect x="1058.1" y="2063.4" width="46.2" height="190.9" fill="#fff" stroke="#000" stroke-width="2.2"/>
<rect x="1128.1" y="1994.6" width="48.4" height="259.7" fill="#000"/>
<rect x="1249.1" y="2227.4" width="45.3" height="26.9" fill="#fff" stroke="#000" stroke-width="2.2"/>
<rect x="1319.2" y="2215.1" width="48.3" height="39.2" fill="#000"/>
<path d="M890.2 2138.3V2132.5M878.1 2132.5H902.3" fill="none" stroke="#000" stroke-width="2.3"/>
<path d="M961.8 2072V2058.5M948.9 2058.5H974.7" fill="none" stroke="#000" stroke-width="2.3"/>
<path d="M1081.2 2062.3V2040.1M1068.7 2040.1H1093.8" fill="none" stroke="#000" stroke-width="2.3"/>
<path d="M1152.3 1994.6V1992.7M1139.8 1992.7H1164.8" fill="none" stroke="#000" stroke-width="2.3"/>
<path d="M1271.7 2226.3V2224.8M1259.7 2224.8H1283.7" fill="none" stroke="#000" stroke-width="2.3"/>
<path d="M1343.3 2215.1V2213.5M1331.3 2213.5H1355.3" fill="none" stroke="#000" stroke-width="2.3"/>
<line x1="894.6" y1="2048.1" x2="963" y2="2048.1" stroke="#000" stroke-width="2.5"/>
<path d="M918.2 2030.8l0.00 -5.77M918.2 2030.8l-6.88 -1.58M918.2 2030.8l6.88 -1.58M918.2 2030.8l-4.00 4.93M918.2 2030.8l4.00 4.93" stroke="#000" stroke-width="2.70" stroke-linecap="round" fill="none"/>
<path d="M940.6 2030.8l0.00 -5.77M940.6 2030.8l-6.88 -1.58M940.6 2030.8l6.88 -1.58M940.6 2030.8l-4.00 4.93M940.6 2030.8l4.00 4.93" stroke="#000" stroke-width="2.70" stroke-linecap="round" fill="none"/>
<line x1="1082.2" y1="1981.1" x2="1156.2" y2="1981.1" stroke="#000" stroke-width="2.5"/>
<path d="M1108.3 1964.5l0.00 -5.77M1108.3 1964.5l-6.88 -1.58M1108.3 1964.5l6.88 -1.58M1108.3 1964.5l-4.00 4.93M1108.3 1964.5l4.00 4.93" stroke="#000" stroke-width="2.70" stroke-linecap="round" fill="none"/>
<path d="M1130.7 1964.5l0.00 -5.77M1130.7 1964.5l-6.88 -1.58M1130.7 1964.5l6.88 -1.58M1130.7 1964.5l-4.00 4.93M1130.7 1964.5l4.00 4.93" stroke="#000" stroke-width="2.70" stroke-linecap="round" fill="none"/>
<text x="0" y="0" font-size="23.24" letter-spacing="4.15" transform="translate(884.34 2290.77) scale(1.000 1)">CD206</text>
<text x="0" y="0" font-size="23.24" letter-spacing="4.07" transform="translate(1081.54 2290.77) scale(1.000 1)">CD80</text>
<text x="0" y="0" font-size="23.24" letter-spacing="4.25" transform="translate(1267.94 2290.77) scale(1.000 1)">MHCII</text>
<text x="0" y="0" font-size="22.46" transform="translate(778.00 2130.35) rotate(-90) scale(0.974 1)">MFI</text>
<rect x="1221.4" y="1970.9" width="33" height="15.1" fill="#fff" stroke="#000" stroke-width="1.8"/>
<rect x="1220.5" y="2002.9" width="34.8" height="15.9" fill="#000"/>
<text x="0" y="0" font-size="21.77" letter-spacing="3.38" transform="translate(1271.37 1986.08) scale(1.050 1)">Medium</text>
<text x="0" y="0" font-size="22.18" letter-spacing="2.81" transform="translate(1272.04 2018.28) scale(1.050 1)">Chronic AA</text></svg></body></html>
